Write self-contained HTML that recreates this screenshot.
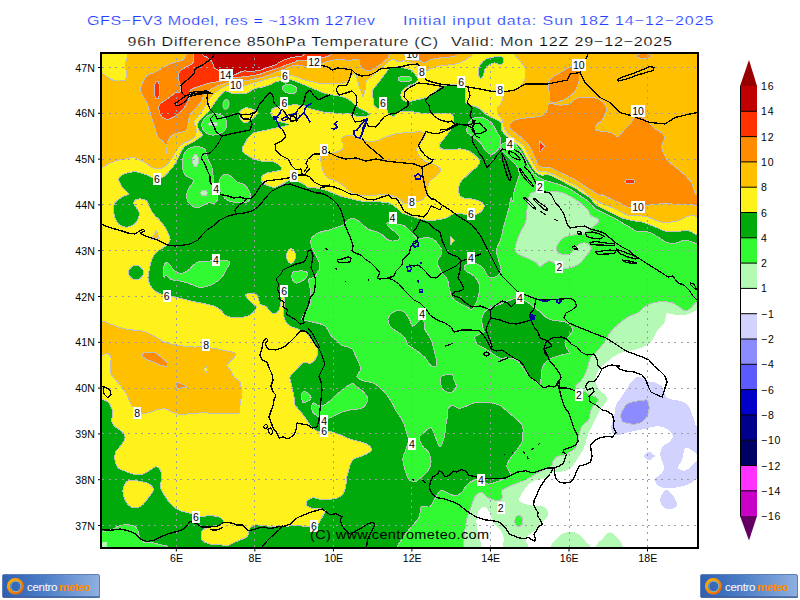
<!DOCTYPE html>
<html><head><meta charset="utf-8"><title>GFS-FV3 96h Difference 850hPa Temperature</title>
<style>
html,body{margin:0;padding:0;background:#fff;}
body{width:800px;height:600px;overflow:hidden;position:relative;font-family:"Liberation Sans",sans-serif;}
svg{position:absolute;left:0;top:0;display:block;}
text{font-family:"Liberation Sans",sans-serif;opacity:.99;}
.ax{font-size:10.6px;fill:#000;}
.cb{font-size:10.5px;fill:#000;letter-spacing:0.8px;}
.lb{font-size:10.5px;fill:#000;text-anchor:middle;}
.t1{font-size:13.4px;fill:#1e3cff;stroke:#fff;stroke-width:.18px;}
.t2{font-size:13.4px;fill:#000;stroke:#fff;stroke-width:.18px;}
.c{stroke:#c0c0c0;stroke-width:1;stroke-linejoin:round;}
.k{fill:none;stroke:#000;stroke-width:1.3;stroke-linejoin:round;stroke-linecap:round;}
.b{fill:none;stroke:#0000a0;stroke-width:1.5;stroke-linejoin:round;stroke-linecap:round;}
.g{stroke:#9c9ca4;stroke-width:1;stroke-dasharray:2 4.5;fill:none;}
</style></head><body>
<svg width="800" height="600" viewBox="0 0 800 600">
<defs><clipPath id="mp"><rect x="101" y="53" width="597" height="495"/></clipPath>
<linearGradient id="lg" x1="0" y1="0" x2="1" y2="0"><stop offset="0" stop-color="#2f5fb0"/><stop offset="0.45" stop-color="#4f7fc8"/><stop offset="1" stop-color="#8fb0e0"/></linearGradient>
<linearGradient id="ring" x1="0" y1="0" x2="1" y2="1"><stop offset="0" stop-color="#ffb400"/><stop offset="1" stop-color="#f06000"/></linearGradient>
</defs>
<g clip-path="url(#mp)" shape-rendering="crispEdges">
<rect x="95" y="45" width="610" height="510" fill="#00aa0a"/>
<path class="c" fill="#32fa32" d="M311 240.4 C311.3 238.5 312.1 237 313.8 235.6 C315.4 234.2 318.1 232.9 320.6 232 C323.1 231.1 326.3 230.8 329 230 C331.7 229.2 334.5 228.2 337 227.3 C339.5 226.4 342.2 225.8 344 224.6 C345.8 223.4 346.1 221.4 347.5 220.4 C348.9 219.4 350.5 218.4 352.2 218.4 C354 218.4 355.9 219.3 357.8 220.4 C359.6 221.5 361.4 223.8 363.2 225.2 C365.1 226.8 366.7 228.4 368.8 229.4 C370.8 230.4 373.3 230.5 375.6 231.4 C377.9 232.3 380.7 233.6 382.5 234.9 C384.3 236.2 385 238 386.6 239 C388.2 240 390.2 240.9 392.1 241 C394.1 241.1 397.2 240.5 398.3 239.7 C399.4 238.9 399.6 237.5 399 236.2 C398.4 235 396.6 233.5 395 232 C393.4 230.5 390.8 228.8 389.4 227.3 C388 225.8 386.2 224 386.6 223.2 C387 222.4 390.4 222.4 392 222.5 C393.6 222.6 394.4 223.4 396.2 223.9 C398.1 224.4 401.2 224.6 403 225.2 C404.8 225.9 405.3 226.6 406.9 228 C408.5 229.4 410.6 231.7 412.4 233.5 C414.2 235.3 415.8 238.3 417.9 239 C420 239.7 422.2 237.6 424.8 237.6 C427.3 237.6 430.7 237.8 433 239 C435.3 240.2 437 242.4 438.5 244.5 C440 246.6 441.8 249.3 442 251.4 C442.2 253.5 440.7 255.1 439.9 256.9 C439.1 258.7 437 260.3 437 262.4 C437 264.5 438.7 267.1 439.9 269.2 C441.1 271.4 442.7 273.3 444 275 C445.3 276.7 446.6 277.2 447.5 279.6 C448.4 282 448.7 286.3 449.5 289.2 C450.3 292.2 450.7 295.2 452.2 297.5 C453.8 299.8 456.7 301.5 459 303 C461.3 304.5 463.9 305.5 466 306.5 C468.1 307.5 469.9 309.6 471.5 309.2 C473.1 308.8 474.5 306.6 475.6 304.4 C476.8 302.2 477.7 299 478.4 296 C479.1 293 480 289.2 479.8 286.5 C479.5 283.8 478.4 281.7 477 279.6 C475.6 277.5 473.2 275.3 471.5 274 C469.8 272.7 468.1 272.8 467 272 C465.9 271.2 464.9 270.4 464.6 269.2 C464.3 268.1 464.2 265.9 465.3 265 C466.4 264.1 469.3 263.9 471.5 263.8 C473.7 263.6 476.3 263.5 478.4 264.4 C480.5 265.3 482.6 267.6 484 269.2 C485.4 270.9 485.6 272.6 486.5 274 C487.4 275.4 488 277 489.4 277.5 C490.8 278 493.4 277.6 495 277 C496.6 276.4 498 275.2 499 274 C500 272.8 500.8 271.2 501 270 C501.2 268.8 501 268.7 500.4 266.5 C499.8 264.3 498.3 259.6 497.6 256.9 C496.9 254.1 495.8 252.8 496.2 250 C496.7 247.2 499.3 243.8 500.4 240.4 C501.5 237 502.1 233.1 503 229.4 C503.9 225.7 505 222 506 218.4 C507 214.8 508.2 211.4 509 208 C509.8 204.6 510.3 199 511 198 C511.7 197 512.5 202.8 513 202 C513.5 201.2 513.2 196.1 513.8 193 C514.3 189.9 515.6 186.2 516.5 183.2 C517.4 180.2 519 177.5 519.2 175 C519.5 172.5 519 170.3 517.9 168 C516.8 165.7 514.5 163.5 512.4 161.2 C510.3 159 507.4 156.3 505.5 154.4 C503.6 152.5 501.9 151.4 501 150 C500.1 148.6 500.1 147.1 500.4 146 C500.7 144.9 501.7 144.2 503 143.5 C504.3 142.8 506.2 141.6 508 141.5 C509.8 141.4 512.6 142.2 514 143 C515.4 143.8 515.2 144.3 516.5 146 C517.8 147.7 520.4 150.5 522 153 C523.6 155.5 524.4 158.2 526 161.2 C527.6 164.2 529.8 168.5 531.6 171 C533.4 173.5 534.7 174.8 537 176.4 C539.3 178 542.4 179.4 545.4 180.5 C548.4 181.6 552 182.3 555 183.2 C558 184.2 560.5 184.9 563.2 186 C566 187.1 568.8 188.4 571.5 190 C574.2 191.6 577 193.8 579.8 195.6 C582.5 197.4 585.4 198.8 588 201 C590.6 203.2 592.9 206.8 595.5 208.8 C598.1 210.7 600.8 211.4 603.8 212.9 C606.7 214.4 610.4 216.1 613.4 217.7 C616.4 219.3 618.9 220.9 621.6 222.5 C624.4 224.1 627.4 225.8 629.9 227.3 C632.4 228.8 634.2 230.7 636.8 231.4 C639.3 232.1 642.5 231.1 645 231.4 C647.5 231.8 649.7 232.5 652 233.5 C654.3 234.5 656.5 236.2 658.8 237.6 C661 239 663.3 240.7 665.6 241.8 C667.9 242.8 670.4 243.7 672.5 243.8 C674.6 243.9 676.2 243 678 242.4 C679.8 241.8 681.7 240.6 683.5 240.4 C685.3 240.2 686.7 240.4 689 241 C691.3 241.6 693.4 243 697.2 243.8 C701.1 244.6 709.5 193.3 712 246 C714.5 298.7 764.5 507.7 712 560 C659.5 612.3 449.4 562.2 397 560 C344.6 557.8 395.4 551.7 397.3 546.8 C399.2 541.9 404.6 535.5 408.2 530.6 C411.8 525.7 416.8 521.5 419 517.5 C421.2 513.5 419.4 508.5 421.2 506.7 C423 504.9 427.5 508.1 429.9 506.7 C432.2 505.2 433.5 500.7 435.3 498 C437.1 495.3 438.7 491.4 440.7 490.5 C442.7 489.6 444.7 491.7 447.2 492.6 C449.7 493.5 453.4 496.1 455.9 495.9 C458.4 495.7 460.6 493.3 462.4 491.5 C464.2 489.7 464.9 486.8 466.7 485 C468.5 483.2 470.8 481.6 473.2 480.7 C475.6 479.8 478.5 478.9 481 479.5 C483.5 480.1 485.7 483.6 488.4 484 C491.1 484.4 494.4 482.6 497 481.8 C499.6 481 501.5 480.1 503.8 479 C506 477.9 509.8 476.4 510.6 474.9 C511.4 473.4 509.1 471.6 508.5 470 C507.9 468.4 506.6 467.3 506.8 465.5 C507.1 463.7 508.4 461.5 510 459 C511.6 456.5 514.6 453.2 516.6 450.3 C518.6 447.4 520.9 444.9 522 441.7 C523.1 438.4 523 433.6 523 430.8 C523 428 523.3 426.9 522 424.8 C520.7 422.6 517.5 420.3 515 418 C512.5 415.7 509.4 413.1 506.9 411 C504.4 408.9 502.7 406.9 500 405.5 C497.3 404.1 493.7 403.3 490.8 402.8 C487.8 402.2 485.2 402 482.5 402 C479.8 402 477 402.1 474.2 402.8 C471.5 403.4 468.5 405.3 466 406.2 C463.5 407.1 461.3 408.4 459 408.2 C456.7 408.1 454.1 405.4 452.2 405.5 C450.4 405.6 448.8 407.2 448 409 C447.2 410.8 447.8 414 447.5 416.5 C447.2 419 446.4 421.2 446 424 C445.6 426.8 445.5 430.1 445 433 C444.5 435.9 443.8 439.4 442.9 441.7 C442 444 440.7 447.4 439.6 447 C438.5 446.6 437.5 442.2 436.4 439.5 C435.3 436.8 433.9 432.8 433 430.8 C432.1 428.8 432 427.8 431 427.6 C430 427.4 428.3 428.6 427 429.5 C425.7 430.4 424.7 431.6 423.4 433 C422.1 434.4 419 435.7 419 438 C419 440.3 421.8 444.6 423.4 447 C425 449.4 427.5 449.9 428.8 452.5 C430.1 455.1 431.2 459.2 431 462.3 C430.8 465.4 429.3 468.5 427.7 471 C426.1 473.5 423.4 475.6 421.2 477.4 C419 479.2 416.9 481.6 414.7 481.8 C412.5 482 409.8 480.5 408.2 478.5 C406.6 476.5 405.9 473.1 405 469.9 C404.1 466.6 402.6 462.4 402.8 459 C402.9 455.6 405 452.5 406 449.3 C407 446.1 408.5 443.1 408.5 440 C408.5 436.9 406.8 433.5 406 430.8 C405.2 428.1 404.7 425.9 404 424 C403.3 422.1 403 421.4 401.8 419.2 C400.5 417.1 397.9 413.8 396.2 411 C394.6 408.2 393.7 405.5 392.1 402.8 C390.5 400 388.7 397 386.6 394.5 C384.5 392 382 389.6 379.8 387.6 C377.5 385.7 375.8 383.9 373 382.8 C370.2 381.7 365.9 381.8 363.2 380.8 C360.6 379.7 357.5 378.4 357 376.6 C356.5 374.8 360.2 372 360.5 369.8 C360.8 367.5 359.9 365.5 359 363 C358.1 360.5 356.1 356.9 355 354.6 C353.9 352.4 353.7 350.8 352.5 349.5 C351.3 348.2 349.9 347.8 348 347 C346.1 346.2 343.3 346.2 341.2 345 C339.2 343.8 337.6 341.7 335.8 340 C333.9 338.3 331.6 336.4 330.2 334.6 C328.9 332.8 328.6 330.6 327.5 329 C326.4 327.4 325.2 326 323.4 325 C321.6 324 319 323.7 316.5 323 C314 322.3 310.7 321.6 308.2 321 C305.8 320.4 302.7 320.7 302 319.5 C301.3 318.3 302.7 316.3 304 314 C305.3 311.7 308.4 308.8 309.6 305.8 C310.8 302.8 310.9 299 311 296 C311.1 293 310.3 290.8 310 288 C309.7 285.2 308.2 281.4 309 279.5 C309.8 277.6 313.5 278.3 315 276.9 C316.5 275.5 317.1 272.5 317.9 271 C318.7 269.5 319.9 269.7 320 268 C320.1 266.3 319.4 263.3 318.6 261 C317.8 258.7 316.1 256.3 315 254 C313.9 251.7 312.4 249.5 311.7 247.2 C311 245 310.7 242.3 311 240.4Z"/>
<path class="c" fill="#32fa32" d="M201.7 126 C201.5 123.8 202.6 120.9 204 119 C205.4 117.1 207.8 115.4 210 114.5 C212.2 113.6 214.7 113.3 217 113.7 C219.3 114.1 222.3 115.3 224 117 C225.7 118.7 226.8 121.8 227 124 C227.2 126.2 226.3 128.3 225 130 C223.7 131.7 221.2 133.2 219 134 C216.8 134.8 214.3 135.3 212 135 C209.7 134.7 206.7 133.5 205 132 C203.3 130.5 201.9 128.2 201.7 126Z"/>
<path class="c" fill="#32fa32" d="M185.2 151.6 C186.6 149.5 188.5 148.3 190.8 147.5 C193.1 146.7 196.7 146.6 199 146.8 C201.3 147 203.3 147.9 204.5 148.9 C205.7 149.9 205.6 151.2 206.2 153 C206.8 154.8 207.3 157.7 208.2 160 C209.2 162.3 210.9 164.2 211.7 166.8 C212.5 169.2 212.6 172.1 213 175 C213.4 177.9 213.5 181.2 214 184 C214.5 186.8 215.3 189.7 216 192 C216.7 194.3 218.3 196 218 198 C217.7 200 215.3 203.2 214 204 C212.7 204.8 211.6 202.5 210 202.6 C208.4 202.7 206.3 203.8 204.5 204.6 C202.7 205.4 200.8 207.1 199 207.4 C197.2 207.8 195.3 207.6 193.5 206.7 C191.7 205.8 189.2 203.8 188 201.9 C186.8 200 186.4 197.4 186.6 195 C186.8 192.6 188.2 189.8 189.4 187.4 C190.6 185 194.2 182.6 193.5 180.5 C192.8 178.4 187.1 177.1 185.2 175 C183.4 172.9 183 170.5 182.5 168 C182 165.5 182 162.7 182.5 160 C183 157.3 183.9 153.7 185.2 151.6Z"/>
<path class="c" fill="#32fa32" d="M219.2 180.5 C219.8 178.9 220.6 176.7 222 175.7 C223.4 174.7 225.7 174 227.5 174.3 C229.3 174.6 231.4 176.5 233 177.8 C234.6 179 235.2 180.9 237 182 C238.8 183.1 242.2 183.5 244 184.6 C245.8 185.7 247 187.1 248 188.8 C249 190.4 249.9 192.4 250.2 194.2 C250.4 196.1 250.2 198.4 249.5 199.8 C248.8 201.1 247.6 202 246 202.5 C244.4 203 242.2 203.1 240 203 C237.8 202.9 235.2 202.5 233 202 C230.8 201.5 228.7 201 227 200 C225.3 199 224.2 197.7 223 196 C221.8 194.3 220.7 191.8 220 190 C219.3 188.2 219.1 186.6 219 185 C218.9 183.4 218.8 182.1 219.2 180.5Z"/>
<path class="c" fill="#32fa32" d="M164 277 C163.5 276 162.9 271.7 163.2 269.2 C163.6 266.8 164.9 263.1 166 262.4 C167.1 261.7 168.6 263.6 170 265 C171.4 266.4 172.4 269.2 174.2 270.6 C176.1 272 178.7 273.4 181 273.4 C183.3 273.4 185.9 272 188 270.6 C190.1 269.2 191.7 266.5 193.5 265 C195.3 263.5 196.2 262.4 199 261.7 C201.8 261 206.5 261.1 210 261 C213.5 260.9 216.7 260.9 220 261 C223.3 261.1 228.6 260.2 229.6 261.7 C230.6 263.2 227.3 267.5 226 270 C224.7 272.5 223.8 274.7 222 276.9 C220.2 279.1 217.5 281.4 215 283 C212.5 284.6 209.4 285.8 206.9 286.5 C204.4 287.2 201.8 287.2 200 287.2 C198.2 287.2 198.2 287.2 196.2 286.5 C194.2 285.8 190.8 283.9 188 283 C185.2 282.1 182.5 281.6 179.8 281 C177 280.4 173.8 280.5 171.5 279.6 C169.2 278.7 167.2 275.9 166 275.5 C164.8 275.1 164.5 278 164 277Z"/>
<path class="c" fill="#32fa32" d="M352.2 383.5 C350.2 383.5 347.7 386 345.4 387.6 C343.1 389.2 340.8 391.1 338.5 393 C336.2 394.9 333.9 397.3 331.6 399.3 C329.3 401.3 327 403.8 324.8 404.8 C322.5 405.8 319.7 405.8 317.9 405.5 C316.1 405.2 314.8 402.5 313.8 402.8 C312.7 403 311.8 405.4 311.7 407 C311.6 408.6 312 410.8 313 412.4 C314 414 316.1 415.5 317.9 416.5 C319.7 417.5 321.7 418.4 324 418.5 C326.3 418.6 328.7 418.2 331.6 417.2 C334.5 416.2 337.8 413.7 341.2 412.4 C344.7 411.1 348.8 410.3 352.2 409.6 C355.7 408.9 359.6 409.4 362 408.2 C364.4 407.1 365.8 404.6 366.7 402.8 C367.6 400.9 368 399.1 367.4 397.2 C366.8 395.4 364.9 393.4 363.2 391.8 C361.6 390.1 359.6 389 357.8 387.6 C355.9 386.2 354.3 383.5 352.2 383.5Z"/>
<path class="c" fill="#32fa32" d="M467 132 C466.8 130.7 466.9 127.8 467.4 126 C467.9 124.2 468.5 122.9 469.8 121.5 C471.1 120.1 473 118 475.2 117.4 C477.5 116.8 480.8 117.1 483.5 118 C486.2 118.9 489.6 120.8 491.8 123 C493.9 125.2 494.8 128.5 496.2 131 C497.7 133.5 499.7 135.6 500.4 137.9 C501.1 140.2 501.1 142.5 500.4 144.8 C499.7 147 497.9 150 496.2 151.6 C494.6 153.2 492.6 154.6 490.8 154.4 C488.9 154.2 486.9 152.1 485.2 150.2 C483.6 148.4 482.9 145.5 481.1 143.4 C479.3 141.3 476.3 139.5 474.2 137.9 C472.2 136.3 470 134.7 468.8 133.8 C467.5 132.8 467.2 133.3 467 132Z"/>
<path class="c" fill="#32fa32" d="M95 531.6 C96.2 527.7 99.3 531.9 102 531.6 C104.7 531.3 108.5 530.6 111.2 529.7 C114 528.8 116 526.9 118.8 526 C121.5 525.1 125.2 524.5 128 524.6 C130.8 524.8 133.9 525.6 135.6 526.9 C137.3 528.2 137.6 530.5 138.4 532.5 C139.2 534.5 139.2 537.3 140.3 539 C141.4 540.7 143 542.2 145 542.8 C147 543.4 150 542.5 152.5 542.8 C155 543.1 157.5 544.1 160 544.7 C162.5 545.3 165.8 544.8 167.5 546.5 C169.2 548.2 182.1 553.6 170 555 C157.9 556.4 107.5 558.9 95 555 C82.5 551.1 93.8 535.5 95 531.6Z"/>
<path class="c" fill="#32fa32" d="M302 393 C302.6 391.3 304.7 391.6 306 392 C307.3 392.4 309.2 394.3 310 395.5 C310.8 396.7 311.5 398 311 399 C310.5 400 308.4 401 307 401.5 C305.6 402 303.3 403.4 302.5 402 C301.7 400.6 301.4 394.7 302 393Z"/>
<ellipse class="c" fill="#32fa32" cx="226" cy="104.4" rx="3" ry="5" transform="rotate(8 226 104.4)"/>
<ellipse class="c" fill="#32fa32" cx="289.7" cy="89" rx="7.5" ry="4.5" transform="rotate(12 289.7 89)"/>
<ellipse class="c" fill="#32fa32" cx="405" cy="79" rx="7" ry="2.5"/>
<path class="c" fill="#32fa32" d="M293 272 C294.2 271.3 296.8 271.1 299 271 C301.2 270.9 304.6 270.8 306 271.5 C307.4 272.2 307.7 273.8 307.5 275 C307.3 276.2 306.2 277.8 305 279 C303.8 280.2 301.5 281.3 300 282 C298.5 282.7 297.2 283.3 296 283 C294.8 282.7 293.2 281.3 292.5 280 C291.8 278.7 291.9 276.3 292 275 C292.1 273.7 291.8 272.7 293 272Z"/>
<path class="c" fill="#00aa0a" d="M484 312.6 C485.3 310.8 487.4 309.6 489.4 308.5 C491.4 307.4 494 306.7 496.2 305.8 C498.5 304.8 501 303.8 503 303 C505 302.2 506.2 301.7 508 301 C509.8 300.3 511.8 299.3 513.8 298.9 C515.8 298.5 517.7 297.9 520 298.5 C522.3 299.1 525.1 300.8 527.5 302.3 C529.9 303.9 532.1 306.1 534.4 307.8 C536.7 309.5 539 310.8 541.2 312.6 C543.5 314.4 545.2 317.4 548 318.8 C550.8 320.2 554.8 320.3 557.8 320.9 C560.8 321.5 563.7 321.3 566 322.2 C568.3 323.2 570.5 324.8 571.5 326.4 C572.5 328 572.7 330.3 572.2 331.9 C571.7 333.5 569.8 334.6 568.8 336 C567.7 337.4 566.5 338.2 566 340 C565.5 341.8 565.3 344.8 566 347 C566.7 349.2 570 352.1 570 353.2 C570 354.4 568 353.5 566 354 C564 354.5 560.8 355 557.8 356 C554.8 357 550.5 358.2 548 360 C545.5 361.8 543.7 364.2 542.6 367 C541.5 369.8 541.7 373.7 541.2 376.6 C540.8 379.5 540.9 383.4 540 384.2 C539.1 385 537.6 382.9 535.8 381.5 C533.9 380.1 531 378.2 528.9 376 C526.8 373.8 525.5 371.1 523.4 368.4 C521.3 365.7 519 361.7 516.5 360 C514 358.3 511 358.3 508.2 358 C505.5 357.7 502 358.3 500 358 C498 357.7 498.2 357.2 496.2 356 C494.2 354.8 490.4 352 488 350.5 C485.6 349 483.8 348 482 347 C480.2 346 478.2 345.9 477 344.3 C475.8 342.7 474.8 339 475 337.4 C475.2 335.8 476.9 335.5 478.4 334.6 C479.9 333.7 483.3 333.4 484 332 C484.7 330.6 482.9 328.5 482.5 326.4 C482.1 324.3 481.6 321.8 481.8 319.5 C482.1 317.2 482.7 314.4 484 312.6Z"/>
<path class="c" fill="#00aa0a" d="M441.2 376.6 C442.3 375.1 444.9 374.9 446.8 374.6 C448.6 374.3 451 373.6 452.2 374.6 C453.5 375.6 453.6 378.8 454.3 380.8 C455 382.7 456.5 384.5 456.4 386.2 C456.3 388 455 390 453.6 391 C452.2 392 449.8 392.8 448 392.5 C446.2 392.2 443.8 390.5 442.6 389 C441.4 387.5 440.8 385.6 440.6 383.5 C440.4 381.4 440.2 378.1 441.2 376.6Z"/>
<path class="c" fill="#00aa0a" d="M388 319.5 C388.2 317.7 389.4 315.4 390.8 314 C392.1 312.6 394.2 311.5 396.2 311 C398.3 310.5 401.4 310.8 403 311.2 C404.6 311.8 404.9 312.6 406 314 C407.1 315.4 408.5 317.5 409.6 319.5 C410.7 321.5 411 325.5 412.4 326 C413.8 326.5 416.5 323.6 417.9 322.2 C419.3 320.9 420 318 421 318 C422 318 423.4 320.4 424 322.2 C424.6 324.1 423.9 326.7 424.8 329 C425.6 331.3 427.6 333.7 428.9 336 C430.2 338.3 431.4 340.3 432.3 343 C433.2 345.7 433.8 349.5 434.4 352 C435 354.5 435.6 355.7 436 358 C436.4 360.3 437.3 364.3 436.5 365.6 C435.7 366.9 433 367 431 365.6 C429 364.2 427.2 359.9 424.8 357.4 C422.3 354.9 419.2 352.6 416.5 350.5 C413.8 348.4 410 346.8 408.2 345 C406.5 343.2 407.1 341.7 406 340 C404.9 338.3 403.6 336.2 401.8 334.6 C399.9 333 397.1 332.1 395 330.5 C392.9 328.9 390.6 326.8 389.4 325 C388.2 323.2 387.8 321.3 388 319.5Z"/>
<path class="c" fill="#b4fab4" d="M529.6 195 C530.3 193.3 530.4 193.6 531.6 193 C532.8 192.4 534.7 191.6 537 191.5 C539.3 191.4 542.4 192.2 545.4 192.2 C548.4 192.2 552 191.4 555 191.5 C558 191.6 560.5 192.1 563.2 193 C566 193.9 569.2 195.8 571.5 197 C573.8 198.2 575.2 199.2 577 200.5 C578.8 201.8 580.7 203 582.5 204.6 C584.3 206.2 586.6 208.2 588 210 C589.4 211.8 589.4 214.3 590.8 215.6 C592.1 216.9 594.9 216.8 596.2 217.7 C597.6 218.6 599.2 219.7 599 221 C598.8 222.3 596.7 223.6 594.9 225.2 C593.1 226.9 590.1 229.3 588 230.8 C585.9 232.2 584.8 233.5 582.5 234.2 C580.2 234.9 576.8 234.6 574.2 234.9 C571.7 235.2 569.5 235.6 567.4 236.2 C565.3 236.9 563.5 237.6 561.9 239 C560.3 240.4 558.7 242.8 557.8 244.5 C556.8 246.2 556.2 247.8 556.4 249.3 C556.6 250.8 557.4 252.5 559 253.4 C560.6 254.3 563.9 254.9 566 254.8 C568.1 254.7 569.9 254 571.5 252.8 C573.1 251.5 574.2 248.7 575.6 247.2 C577 245.8 578.1 244.5 579.8 243.8 C581.4 243.1 583.5 242.7 585.2 243 C587 243.3 589.1 244.7 590 245.9 C590.9 247.1 591.5 248.2 590.8 250 C590 251.8 586.9 254.8 585.2 256.9 C583.6 259 582.8 260.8 581 262.4 C579.2 264 577 265.5 574.2 266.5 C571.5 267.5 567.1 268.4 564.6 268.6 C562.1 268.9 560.8 268.9 559 268 C557.2 267.1 555.6 264.2 554 263 C552.4 261.8 551.2 260.9 549.5 261 C547.8 261.1 545.6 262.8 544 263.8 C542.4 264.7 541.4 266.7 540 266.5 C538.6 266.3 537.8 263.8 535.8 262.4 C533.7 261 530.5 259.6 527.5 258.2 C524.5 256.9 520 255.6 517.9 254 C515.8 252.4 515.1 250.9 515 248.6 C514.9 246.3 516.3 243.2 517.2 240.4 C518.1 237.6 519.2 235 520.6 232 C522 229 524.4 225.7 525.4 222.5 C526.4 219.3 526.4 216.1 526.8 212.9 C527.1 209.7 527 206.2 527.5 203.2 C528 200.3 528.9 196.7 529.6 195Z"/>
<path class="c" fill="#b4fab4" d="M712 296 C709.5 252.9 700.9 299.5 697.2 301.6 C693.6 303.7 692.4 307 690.4 308.5 C688.4 310 686.8 310.9 685 310.6 C683.2 310.4 681.5 308.3 679.4 307 C677.3 305.7 675.2 303.9 672.5 303 C669.8 302.1 666.2 301.6 663 301.6 C659.8 301.6 656.2 302.2 653.2 303 C650.2 303.8 647.5 304.9 645 306.5 C642.5 308.1 640.8 310.9 638 312.6 C635.2 314.3 631.7 314.9 628.5 316.8 C625.3 318.6 622 321.1 619 323.6 C616 326.1 613.1 328.8 610.6 332 C608.1 335.2 605.9 339.9 603.8 343 C601.6 346.1 599.8 348.1 597.6 350.5 C595.4 352.9 592.4 354.9 590.8 357.4 C589.1 359.9 588.9 362.9 588 365.6 C587.1 368.4 586.4 371.4 585.2 373.9 C584.1 376.4 582.6 378.7 581 380.8 C579.4 382.8 575.9 384.5 575.6 386.2 C575.3 388 577.4 390.1 579 391 C580.6 391.9 583.5 391.2 585.2 391.8 C587 392.3 587.6 393.6 589.4 394.5 C591.2 395.4 594.8 396.3 596.2 397.2 C597.7 398.2 598.5 398.9 598.3 400 C598.1 401.1 596.1 402.6 595 404 C593.9 405.4 592.3 406.6 591.5 408.2 C590.7 409.9 590.4 412.2 590 414 C589.6 415.8 590.4 417.2 589.1 419.2 C587.8 421.2 583.9 423.7 582.2 426 C580.6 428.3 580.2 430.5 579.5 433 C578.8 435.5 578.7 438.8 578 441.2 C577.3 443.8 576.8 446.2 575.4 448 C574 449.8 571.7 451.1 569.9 452.2 C568.1 453.4 566.5 454.3 564.4 455 C562.3 455.7 559.3 455.5 557.5 456.4 C555.7 457.3 554.4 458.9 553.4 460.5 C552.4 462.1 552.9 464.4 551.3 466 C549.7 467.6 546.4 468.6 543.8 470 C541.1 471.4 538.5 472.6 535.5 474.2 C532.5 475.9 528.8 478.2 525.8 479.7 C522.8 481.2 520.2 481.9 517.5 483 C514.8 484.1 511.9 485.2 509.2 486.5 C506.6 487.8 502.8 489 501.7 490.7 C500.6 492.4 502.7 495.3 502.4 496.9 C502.1 498.5 501.2 499.9 500 500.5 C498.8 501.1 496.8 500.6 494.9 500.2 C493 499.8 490.6 499.3 488.4 498 C486.2 496.7 484.1 493 481.9 492.6 C479.7 492.2 477.2 493.5 475.4 495.9 C473.6 498.2 472.4 502.7 471 506.7 C469.6 510.7 467.8 515.4 466.7 519.7 C465.6 524 465 528.3 464.5 532.7 C464 537.1 463.7 541.5 463.5 546 C463.3 550.5 422.1 557.7 463.5 560 C504.9 562.3 670.6 604 712 560 C753.4 516 714.5 339.1 712 296Z"/>
<ellipse class="c" fill="#b4fab4" cx="213" cy="124" rx="4.5" ry="2"/>
<ellipse class="c" fill="#b4fab4" cx="195.5" cy="160.5" rx="3" ry="6"/>
<ellipse class="c" fill="#b4fab4" cx="204" cy="193" rx="3.2" ry="3"/>
<path fill="#b4fab4" d="M95 542 L107 542 L107 555 L95 555Z"/>
<path fill="#ffffff" d="M712 306 C709.5 264.3 700.6 308.9 697.2 310 C693.9 311.1 693.6 311.8 691.8 312.6 C689.9 313.4 689 314.4 686.2 314.7 C683.5 315 678.5 314.9 675.2 314.7 C672 314.5 668.6 312.8 667 313.3 C665.4 313.9 666.3 316.1 665.6 318 C664.9 319.9 664.4 322.9 663 325 C661.6 327.1 659 328.2 657.4 330.5 C655.8 332.8 654.9 336.4 653.2 338.8 C651.6 341.1 650 342.7 647.8 344.3 C645.5 345.9 642.2 347.4 639.5 348.4 C636.8 349.4 634.2 349.8 631.2 350.5 C628.3 351.2 624.4 351.6 621.6 352.5 C618.9 353.4 616.8 354.8 614.8 356 C612.7 357.2 611.3 358.4 609.2 360 C607.2 361.6 604.5 363.5 602.4 365.6 C600.3 367.7 598 370 596.9 372.5 C595.8 375 595.3 378 595.5 380.8 C595.7 383.5 596.7 386.7 598.2 389 C599.8 391.3 603.5 392.7 605 394.5 C606.5 396.3 607.6 398.2 607.2 400 C606.9 401.8 604.3 403.4 602.9 405.5 C601.5 407.6 600.1 409.9 598.8 412.4 C597.4 414.9 596 417.9 594.6 420.6 C593.2 423.4 591.8 426.2 590.5 428.9 C589.2 431.6 587.9 434.2 587 437 C586.1 439.8 586 442.6 585 445.4 C584 448.2 582.5 450.8 580.9 453.6 C579.3 456.4 577.2 459.5 575.4 462 C573.6 464.5 572.2 467.2 569.9 468.8 C567.6 470.3 564.4 471 561.6 471.5 C558.8 472 556 471 553.2 472 C550.5 473 548 476.2 545 477.6 C542 479 538.1 479.2 535.4 480.4 C532.6 481.5 530.6 482.7 528.5 484.5 C526.4 486.3 524.5 489.2 523 491.4 C521.5 493.6 520.1 495.9 519.6 497.6 C519.1 499.3 519 500.6 520.2 501.7 C521.5 502.8 524.7 503.8 527 504.5 C529.3 505.2 531.5 505.6 534 505.8 C536.5 506 540.2 505.2 542.2 505.8 C544.3 506.4 545.4 507.9 546.4 509.2 C547.4 510.6 548.6 512.4 548.5 514 C548.4 515.6 546.7 517.5 545.7 518.9 C544.7 520.3 543.5 520.9 542.2 522.3 C541 523.6 539.4 525.5 538 527 C536.6 528.5 535.3 530.1 534 531.2 C532.7 532.4 531.4 532.9 530 534 C528.6 535.1 526.3 536.5 525.8 538 C525.2 539.5 526 541.6 526.5 543 C527 544.4 528.1 543.6 528.5 546.4 C528.9 549.2 498.4 557.7 529 560 C559.6 562.3 681.5 602.3 712 560 C742.5 517.7 714.5 347.7 712 306Z"/>
<path fill="#ffffff" d="M481.9 560 C478.4 557.8 482.6 551.3 481.9 546.8 C481.2 542.2 478.4 537.2 477.5 532.7 C476.6 528.2 476.3 523.3 476.5 519.7 C476.7 516.1 477.4 513.2 478.6 511 C479.9 508.8 482.2 506.5 484 506.7 C485.8 506.9 488.1 509.5 489.5 512 C490.9 514.5 491.1 519.2 492.7 521.9 C494.3 524.6 497.4 525.9 499.2 528.4 C501 530.9 503 533.9 503.6 537 C504.2 540.1 503.1 543 503 546.8 C502.9 550.6 506.5 557.8 503 560 C499.5 562.2 485.4 562.2 481.9 560Z"/>
<path fill="#b4fab4" d="M551 560 C544.4 557.7 550.6 549.6 551.2 546.4 C551.8 543.2 553.1 542.8 554.6 541 C556.1 539.2 557.9 536.9 560 535.4 C562.1 533.9 564.5 532.5 567 532 C569.5 531.5 573 531.9 575.2 532.6 C577.5 533.3 578.9 534.4 580.8 536 C582.6 537.6 584.6 540.6 586.2 542.3 C587.9 544 589.6 543.4 590.4 546.4 C591.2 549.4 597.6 557.7 591 560 C584.4 562.3 557.6 562.3 551 560Z"/>
<path fill="#b4fab4" d="M596 560 C591.5 557.7 595.2 549.5 596.2 546 C597.3 542.5 600.4 541 602.5 538.8 C604.6 536.5 606.7 533.1 608.8 532.5 C610.8 531.9 613.1 533.5 615 535 C616.9 536.5 618.8 539.4 620 541.2 C621.2 543.1 622 542.9 622.5 546 C623 549.1 627.4 557.7 623 560 C618.6 562.3 600.5 562.3 596 560Z"/>
<ellipse class="c" fill="#32fa32" cx="518.9" cy="521" rx="4.1" ry="5.5"/>
<path fill="#d2d2ff" d="M637.5 376.6 C635.4 377.2 633.2 379.7 631.2 382 C629.3 384.3 627.6 387.6 625.8 390.4 C623.9 393.2 621.8 396.3 620.2 398.6 C618.7 400.9 617.3 402.4 616.5 404 C615.7 405.6 615.7 405.9 615.2 408.2 C614.8 410.6 614.6 415.2 614 418 C613.4 420.8 611.8 422.5 611.5 425 C611.2 427.5 611.2 431.3 612.5 433 C613.8 434.7 617.1 435 619.4 435 C621.7 435 623.8 433.5 626.2 432.8 C628.7 432.1 630.9 431.6 634 431 C637.1 430.4 641.3 429.8 645 429 C648.7 428.2 652.8 426.4 656 426.2 C659.2 426 661.7 426.6 664.2 427.6 C666.8 428.6 669.8 430.7 671.2 432.4 C672.6 434.1 673 436.2 672.5 437.9 C672 439.6 670 441.3 668.4 442.7 C666.8 444.1 664.4 444.4 663 446.1 C661.6 447.8 660.5 450.7 660.2 453 C660 455.3 660.8 457.6 661.5 459.9 C662.2 462.2 664.2 464.5 664.2 466.8 C664.2 469 663.1 471.5 661.5 473.6 C659.9 475.7 655.3 477.3 654.6 479.1 C653.9 480.9 656 483.1 657.4 484.6 C658.8 486.1 660.5 487.4 663 488 C665.5 488.6 669.1 488.3 672.5 488 C675.9 487.7 680.5 486.8 683.5 486 C686.5 485.2 688.2 484.4 690.4 483.2 C692.6 482.1 693 481.3 696.6 479.1 C700.2 476.9 709.4 478.5 712 470 C714.6 461.5 714.5 435.2 712 428 C709.5 420.8 700.2 428.2 697.2 427 C694.3 425.8 695.4 422.8 694.5 420.6 C693.6 418.4 692.7 416 691.8 413.8 C690.8 411.5 690.4 409 689 407 C687.6 405 685.8 403.2 683.5 402 C681.2 400.8 678 400.7 675.2 400 C672.5 399.3 668.8 399.4 667 398 C665.2 396.6 665.2 393.7 664.2 391.8 C663.3 389.8 662.9 387.7 661.5 386.2 C660.1 384.8 658.1 383.6 656 382.8 C653.9 382 651.1 382.2 649 381.5 C646.9 380.8 645.5 379.5 643.6 378.7 C641.7 377.9 639.6 376.1 637.5 376.6Z"/>
<path fill="#d2d2ff" d="M666.2 490 C667.9 490.2 670.7 492.7 672.5 495 C674.3 497.3 677 501.5 677 503.8 C677 506 674.7 508.1 672.5 508.8 C670.3 509.4 665.8 509 663.8 507.5 C661.7 506 660.2 502.3 660 500 C659.8 497.7 661.5 495.4 662.5 493.8 C663.5 492.1 664.6 489.8 666.2 490Z"/>
<path fill="#d2d2ff" d="M643 456 L649.1 451.2 L655.2 456 L649.1 460.8Z"/>
<path fill="#ffffff" d="M686.2 447.5 C688.4 447.6 694.3 452 696.6 453.7 C698.9 455.4 700.1 456.2 700 457.5 C699.9 458.8 698.3 459.1 696 461.2 C693.7 463.4 689.2 469.1 686.2 470.2 C683.2 471.3 678.7 469.8 678 468.1 C677.3 466.4 681.3 462.4 682.2 459.9 C683.1 457.4 682.8 455.1 683.5 453 C684.2 450.9 684.1 447.4 686.2 447.5Z"/>
<path class="c" fill="#8c8cff" d="M621 413.8 C621.3 412.4 622 411.2 623 409.6 C624 408 625.2 405.4 627 404 C628.8 402.6 631.5 401.9 634 401.4 C636.5 400.8 640.1 400.9 642.2 400.7 C644.4 400.5 645.9 399.2 647 400 C648.1 400.8 648.8 403.4 649 405.5 C649.2 407.6 649.2 410.1 648.5 412.4 C647.8 414.7 646.5 417.4 645 419.2 C643.5 421.1 641.8 422.6 639.5 423.4 C637.2 424.2 634 424.2 631.2 424 C628.5 423.8 624.7 423 623 422 C621.3 421 621.3 419.4 621 418 C620.7 416.6 620.7 415.1 621 413.8Z"/>
<path class="c" fill="#fff21c" d="M90 40 C123 -19.7 255 33.3 288 40 C321 46.7 289.2 73.2 288 80 C286.8 86.8 282.9 80.4 280.8 80.7 C278.6 81 277.1 81.3 275.2 82 C273.4 82.7 271.8 84 269.8 84.8 C267.8 85.6 265.3 86.3 263 86.9 C260.7 87.5 258.1 87.6 256 88.2 C253.9 88.9 252.3 90.1 250.5 91 C248.7 91.9 247.1 93.3 245 93.8 C242.9 94.2 240.3 93.9 238 93.8 C235.7 93.6 233.4 93.5 231.2 93 C229.1 92.5 227 90.3 225 91 C223 91.7 221 94.7 219 97 C217 99.3 214.8 102.5 213 105 C211.2 107.5 210.2 109.5 208 112 C205.8 114.5 201.8 117.8 200 120 C198.2 122.2 197.2 123.3 197 125 C196.8 126.7 198.1 128.3 199 130 C199.9 131.7 202.5 133.7 202.5 135 C202.5 136.3 200.8 136.7 199 138 C197.2 139.3 194.3 141.4 192 142.7 C189.7 144 187.1 144.5 185.2 146 C183.4 147.5 182.4 149.3 181 151.6 C179.6 153.9 178.3 157.5 177 160 C175.7 162.5 174.6 164.6 173 166.8 C171.4 168.9 169.2 171.2 167.4 173 C165.6 174.8 164.1 176.8 162 177.8 C159.9 178.7 157.5 179 155 178.5 C152.5 178 149.5 176 146.8 175 C144 174 141.2 172.7 138.5 172.2 C135.8 171.8 133 171.8 130.2 172.2 C127.5 172.7 123.9 173.9 122 175 C120.1 176.1 118.8 177.4 118.6 179 C118.4 180.6 119.6 182.8 120.6 184.6 C121.6 186.4 123.3 188.4 124.8 190 C126.2 191.6 129 193.3 129 194.2 C129 195.2 126.4 194.7 124.8 195.5 C123.1 196.3 121 197.7 119.2 199 C117.5 200.3 115.3 201.4 114.4 203.2 C113.5 205.1 113.7 207.5 113.8 210 C113.8 212.5 114.1 216 115 218.4 C115.9 220.8 117.4 223.1 119.2 224.6 C121.1 226.1 123.7 227.2 126 227.3 C128.3 227.4 131 226.5 133 225.2 C135 224 136.8 221.8 137.8 219.8 C138.8 217.7 139.4 215 139.2 212.9 C139 210.8 137.3 209 136.4 207.4 C135.5 205.8 133.8 204.5 133.7 203.2 C133.6 202 134.5 200.5 135.8 199.8 C137 199.1 139.4 198.8 141.2 199 C143.1 199.2 145.4 199.8 146.8 201.2 C148.1 202.6 148.4 205.2 149.5 207.4 C150.6 209.6 152 212.2 153.6 214.2 C155.2 216.3 157.3 217.7 159.1 219.8 C160.9 221.8 163 224.1 164.6 226.6 C166.2 229.1 167.8 232.6 168.8 234.9 C169.7 237.2 170.5 238.6 170 240.4 C169.5 242.2 167.8 244.3 166 245.9 C164.2 247.5 161.2 248.4 159.1 250 C157 251.6 155 253.4 153.6 255.5 C152.2 257.6 151.6 260.1 150.9 262.4 C150.2 264.7 150 266.6 149.5 269.2 C149 271.9 147.8 275.4 148 278.2 C148.2 281.1 149.5 284.2 150.9 286.5 C152.3 288.8 154.2 290.6 156.4 292 C158.6 293.4 161.2 294.2 164 295 C166.8 295.8 169.8 296.2 172.9 296.8 C176 297.4 179.1 298.1 182.5 298.9 C185.9 299.7 189.8 300.8 193.5 301.6 C197.2 302.4 202 303.2 204.5 303.7 C207 304.2 206.5 303.9 208.2 304.4 C210 304.9 212.9 305.6 215 306.5 C217.1 307.4 219 308.6 220.6 310 C222.2 311.4 222.9 313.4 224.8 314.7 C226.6 315.9 228.8 317 231.6 317.5 C234.3 318 238.5 317.8 241.2 317.5 C244 317.2 245.9 316.9 248 316 C250.1 315.1 252.2 313.5 253.6 312 C255 310.5 256.6 308.5 256.4 307 C256.2 305.5 253.7 304.4 252.2 303 C250.8 301.6 249.1 300.1 248 298.9 C246.9 297.6 245.2 296.4 245.4 295.5 C245.7 294.6 247.7 293.5 249.5 293.4 C251.3 293.3 254.9 293.7 256.4 294.8 C257.9 295.8 257.8 298 258.5 299.6 C259.2 301.2 259.2 303.2 260.5 304.4 C261.8 305.5 264.4 305.4 266 306.5 C267.6 307.6 268.6 310 270 311.2 C271.4 312.5 272.9 314 274.2 314 C275.6 314 277.4 312.6 278.4 311.2 C279.4 309.9 280 308 280.5 305.8 C281 303.5 281.1 300 281.5 298 C281.9 296 282.5 294.1 283 294 C283.5 293.9 284.4 295.1 284.6 297.5 C284.8 299.9 284.1 305.3 284 308.5 C283.9 311.7 283.7 314.5 284 316.8 C284.3 319 284.9 320.6 286 322.2 C287.1 323.9 288.8 325.3 290.8 326.4 C292.7 327.5 295.6 328.2 297.6 329 C299.6 329.8 301.7 330.7 303 331.2 C304.3 331.7 304.4 331 305.5 332 C306.6 333 308.2 335.6 309.6 337.4 C311 339.2 312.5 341.2 313.8 343 C315 344.8 316.5 346.9 317.2 348.4 C317.9 349.9 318 350.5 317.9 352 C317.8 353.5 317.6 355.6 316.5 357.4 C315.4 359.2 313.2 362.1 311 363 C308.8 363.9 305.5 361.9 303 363 C300.5 364.1 298.4 367.5 296.2 369.8 C294.1 372 290.8 374.1 290 376.6 C289.2 379.1 290.9 381.9 291.5 384.9 C292.1 387.9 292.9 391.5 293.5 394.5 C294.1 397.5 294.7 401 294.9 402.8 C295.1 404.5 294 403.7 294.8 405 C295.6 406.3 297.9 408.4 299.6 410.5 C301.3 412.6 303.2 414.9 305 417.4 C306.8 419.9 308.8 423.4 310.6 425.6 C312.4 427.8 313.8 429.4 316 430.5 C318.2 431.6 321.5 432.3 324 432.5 C326.5 432.7 328.7 431.4 331.2 431.8 C333.8 432.2 336.5 433.5 339.5 434.6 C342.5 435.8 345.8 437.6 349 438.7 C352.2 439.8 355.8 440.6 358.8 441.5 C361.8 442.4 364.8 442.8 367 444.2 C369.2 445.6 371.8 448.1 371.8 449.7 C371.8 451.3 369 452.6 367 453.8 C365 455 362.3 455.7 360 456.6 C357.7 457.5 354.8 458.1 353.2 459.3 C351.7 460.5 351.3 462.1 350.5 464 C349.7 465.9 349.2 468.7 348.5 471 C347.8 473.3 346.8 475.8 346.4 478 C346 480.2 346.2 482.1 346 484 C345.8 485.9 345.8 487.4 345 489.4 C344.2 491.4 343.1 494.4 341.2 496 C339.4 497.6 336.9 498.1 333.8 498.8 C330.6 499.4 326 499.9 322.5 499.7 C319 499.5 315.5 497.6 313 497.8 C310.5 498 308.6 499.4 307.5 500.6 C306.4 501.9 305.9 504.1 306.5 505.3 C307.1 506.5 308.9 507.4 311.2 508 C313.6 508.6 318.3 508.5 320.6 509 C322.9 509.5 325 509.8 325.3 511 C325.6 512.2 323.6 514.5 322.5 516.5 C321.4 518.5 320.2 521.3 318.8 523 C317.3 524.7 316.8 526 314 526.5 C311.2 527 306.1 526.1 301.9 526 C297.7 525.9 292.8 526 288.8 526 C284.7 526 281.2 526 277.5 526 C273.8 526 270 526.2 266.2 526 C262.5 525.8 257.8 524.5 255 525 C252.2 525.5 250.7 526.9 249.4 528.8 C248.2 530.6 249.1 534.4 247.5 536.2 C245.9 538.1 242.1 539 240 540 C237.9 541 237.1 541.1 235 542 C232.9 542.9 230 545.1 227.5 545.6 C225 546.1 223.1 545 220 544.7 C216.9 544.4 211.7 544.5 208.8 543.8 C205.8 543 203.4 541.6 202.2 540 C200.9 538.4 201.1 536.1 201.2 534.4 C201.4 532.7 201.4 530.9 203 529.7 C204.6 528.5 207.8 527.8 210.6 527 C213.4 526.2 217.8 525.8 220 525 C222.2 524.2 223.8 523.2 223.8 522 C223.8 520.8 222.2 518.6 220 517.5 C217.8 516.4 213.7 515.8 210.6 515.6 C207.5 515.4 203.7 516.7 201.2 516.5 C198.8 516.3 198.2 515.1 196 514.5 C193.8 513.9 190.9 513.5 188 512.8 C185.1 512 181.5 511.4 178.8 510 C176 508.6 173.4 506.6 171.2 504.4 C169.1 502.2 167.3 499.4 165.6 496.9 C163.9 494.4 161.8 491.4 161 489.4 C160.2 487.3 160.3 486.8 160.5 484.6 C160.7 482.4 161.9 478.8 161.9 476.4 C161.9 474 161.4 471.8 160.5 470.2 C159.6 468.6 158 466.9 156.4 466.8 C154.8 466.6 152.7 468.5 150.9 469.5 C149.1 470.5 147.5 472.1 145.4 473 C143.3 473.9 140.8 474.9 138.5 475 C136.2 475.1 133.9 474.3 131.6 473.6 C129.3 472.9 127 472 124.8 471 C122.5 470 119.5 469.3 117.9 467.5 C116.3 465.7 115.3 462.6 115 460 C114.7 457.4 114.9 453.9 115.8 451.6 C116.7 449.3 119.1 448.1 120.6 446 C122.1 443.9 124.2 441.3 124.8 439.2 C125.3 437.2 124.9 435.4 124 433.8 C123.1 432.1 121 431 119.2 429.6 C117.5 428.2 115 427.1 113.8 425.5 C112.5 423.9 111.6 421.8 111.5 420 C111.4 418.2 113 417 113 415 C113 413 112.5 410.4 111.7 408.2 C110.9 406.1 109.9 403.5 108.2 402 C106.6 400.5 105 400 102 399.3 C99 398.6 92 457.9 90 398 C88 338.1 57 99.7 90 40Z"/>
<path class="c" fill="#fff21c" d="M271 112.3 C271.2 111.5 271.3 109.9 272.5 109 C273.7 108.1 276.1 107.4 278 106.8 C279.9 106.2 282.2 105.7 284 105.5 C285.8 105.3 287.2 105.5 289 105.4 C290.8 105.3 293 104.8 294.5 104.8 C296 104.7 296.5 104.8 298 105 C299.5 105.2 301.9 105.1 303.8 105.7 C305.6 106.3 306.7 107.6 309 108.4 C311.3 109.2 314.7 109.8 317.5 110.5 C320.3 111.2 323 112.2 325.8 112.6 C328.5 113 331.3 112.8 334 113 C336.7 113.2 339.2 113.8 342 114 C344.8 114.2 347.7 113.5 350.5 114 C353.3 114.5 356.1 116.4 358.8 116.7 C361.6 117 365.2 116.3 367 116 C368.8 115.7 370 115.4 369.8 114.6 C369.6 113.8 367.4 112.3 365.6 111.2 C363.8 110.1 360.9 109.1 358.8 107.8 C356.7 106.4 354.8 104.5 353 103 C351.2 101.5 350.1 100 347.8 98.8 C345.6 97.6 342.3 96.7 339.5 96 C336.7 95.3 333.8 95.3 331 94.7 C328.2 94.1 325.7 93.5 323 92.6 C320.3 91.7 317.5 90.3 314.8 89.2 C312 88.1 309.3 86.9 306.5 85.8 C303.7 84.6 300.8 83.3 298 82.3 C295.2 81.3 292.5 79.9 290 79.6 C287.5 79.3 284.2 86.9 283 80.3 C281.8 73.7 211.5 46.7 283 40 C354.5 33.3 640.5 7.5 712 40 C783.5 72.5 714.5 202.4 712 234.9 C709.5 267.4 700.6 235.4 697.2 234.9 C693.9 234.4 693.6 232.8 691.8 232 C689.9 231.2 688.3 230.1 686.2 230 C684.2 229.9 681.7 231.1 679.4 231.4 C677.1 231.7 675 232.1 672.5 232 C670 231.9 667 231.5 664.2 230.8 C661.5 230 658.8 228.4 656 227.3 C653.2 226.2 650.3 224.8 647.8 223.9 C645.2 223 643.6 222.4 640.9 221.8 C638.1 221.2 634.5 221.1 631.2 220.4 C628 219.7 624.6 218.8 621.6 217.7 C618.6 216.6 616.4 215.1 613.4 213.6 C610.4 212.1 606.7 210.2 603.8 208.8 C600.8 207.2 597.7 206.3 595.5 204.6 C593.3 202.9 592.9 200.3 590.8 198.4 C588.6 196.5 585.2 194.8 582.5 193 C579.8 191.2 577 189 574.2 187.4 C571.5 185.8 568.8 184.7 566 183.2 C563.2 181.8 560.5 180.4 557.8 179 C555 177.6 552.2 175.7 549.5 175 C546.8 174.3 543.5 175.5 541.2 175 C539 174.5 537.6 174.1 535.8 172.2 C533.9 170.4 532 166.8 530.2 164 C528.5 161.2 527 158.5 525.4 155.8 C523.8 153 522.5 149.8 520.6 147.5 C518.7 145.2 516.3 144.1 513.8 142 C511.2 139.9 507.6 137.1 505.5 135 C503.4 132.9 502.1 131.4 501.4 129.6 C500.7 127.8 501.6 125.3 501.4 124 C501.2 122.7 501.6 122.6 500 121.5 C498.4 120.4 494 118.6 491.8 117.4 C489.5 116.2 487.9 115.8 486.2 114.6 C484.6 113.4 483.6 111.8 482 110.5 C480.4 109.2 478.6 107.9 476.6 107 C474.6 106.1 471.6 105.8 469.8 105 C468 104.2 466.3 103.8 465.6 102.2 C464.9 100.7 465.7 97.8 465.6 95.4 C465.5 93 465.8 89.5 465 87.8 C464.2 86.1 462.3 86 461 85.5 C459.7 85 458.8 84.7 457 84.5 C455.2 84.3 452.5 84.2 450.5 84.4 C448.5 84.6 446.8 85.2 445 85.8 C443.2 86.3 441.1 86.9 439.5 87.8 C437.9 88.7 437 90 435.4 91.2 C433.8 92.5 431.8 94.3 430 95.4 C428.2 96.5 426.7 97.2 424.4 98 C422.1 98.8 418.7 99.4 416 100 C413.3 100.6 410.3 101.7 408 101.6 C405.7 101.5 403.6 100.8 402.4 99.5 C401.2 98.2 400.8 95.7 401 94 C401.2 92.3 402.4 90.6 403.8 89.2 C405.1 87.8 407.2 86.8 409 85.8 C410.8 84.7 413.2 84 414.8 83 C416.2 82 417.9 81 418 79.6 C418.1 78.2 416.4 76.2 415.4 74.8 C414.4 73.2 413.5 71.6 412 70.6 C410.5 69.6 408.8 69.2 406.5 68.6 C404.2 68 400.8 67.1 398 67 C395.2 66.9 391.9 67.2 390 68 C388.1 68.8 387.6 70.7 386.5 72 C385.4 73.3 385.4 73.5 383.5 76 C381.6 78.5 376.8 84.5 375 87 C373.2 89.5 372.8 89.2 372.5 91 C372.2 92.8 372.8 95.7 373 98 C373.2 100.3 373.2 103.2 374 105 C374.8 106.8 376 107.8 378 108.5 C380 109.2 384.2 108 386 109 C387.8 110 387.6 113.4 389 114.6 C390.4 115.8 393.2 116.3 394.5 116 C395.8 115.7 395.5 113.4 397 112.6 C398.5 111.8 401.6 111.4 403.8 111.2 C405.9 111 407.7 111.3 410 111.5 C412.3 111.7 414.7 112.2 417.5 112.6 C420.3 113 424 113.9 427 114 C430 114.1 432.4 113.4 435.4 113.2 C438.4 113.1 442.2 113 445 113.2 C447.8 113.5 450.5 113.2 452 114.6 C453.5 116 454 119.5 454 121.5 C454 123.5 453.5 124.7 452.2 126.9 C451 129.2 448.6 132.5 446.8 135 C444.9 137.5 442.5 140.2 441.2 142 C440 143.8 438.7 144.7 439.2 146 C439.7 147.3 441.8 149 444 149.6 C446.2 150.2 449.5 149.7 452.2 149.6 C455 149.5 457.8 148.7 460.5 148.9 C463.2 149.1 466.2 149.9 468.8 151 C471.3 152.1 473.8 154 475.6 155.8 C477.4 157.5 479.5 159.4 479.8 161.2 C480 163.1 478.4 165.1 477 166.8 C475.6 168.4 473.3 169.4 471.5 171 C469.7 172.6 467.8 174.6 466 176.4 C464.2 178.2 461.8 179.9 460.5 182 C459.2 184.1 458.6 186.5 458.5 188.8 C458.4 191 458.8 194 459.8 195.6 C460.8 197.2 462.7 197.8 464.6 198.4 C466.6 199 469 198.5 471.5 199 C474 199.5 477.7 200.1 479.8 201.2 C481.8 202.2 483.5 203.8 484 205.3 C484.5 206.8 483.7 208.5 482.5 210 C481.3 211.5 479.1 213.4 477 214.2 C474.9 215.1 473 215.1 470 215 C467 214.9 462 213.7 459 213.6 C456 213.5 454.3 213.6 452.2 214.2 C450.2 214.9 449 216.8 446.8 217.7 C444.5 218.6 441.7 219.3 438.5 219.8 C435.3 220.2 430.9 220.6 427.5 220.4 C424.1 220.2 421.1 219.3 417.9 218.4 C414.7 217.5 410.9 215.9 408.2 215 C405.6 214.1 403.8 214.2 401.8 212.9 C399.8 211.6 398.3 209 396.2 207.4 C394.2 205.8 392.1 204.2 389.4 203.2 C386.6 202.3 383.2 202.1 379.8 201.9 C376.3 201.7 372.4 202.1 368.8 201.9 C365.1 201.7 361.4 201.2 357.8 200.5 C354.1 199.8 349.5 198.4 346.8 197.8 C344 197.1 343.5 197.1 341.2 196.3 C339 195.5 335.8 194.1 333 193 C330.2 191.9 327.5 190.8 324.8 190 C322 189.2 319.2 188.4 316.5 188 C313.8 187.6 310.2 188 308.2 187.4 C306.2 186.8 306 185.5 304.5 184.6 C303 183.7 300.8 182.6 299 182 C297.2 181.4 295.6 181.2 294 181 C292.4 180.8 290.9 180.2 289.4 180.5 C287.9 180.8 286.9 181.8 285.2 182.6 C283.6 183.4 281.6 184.5 279.8 185.3 C277.9 186.1 276.1 187.3 274.2 187.4 C272.4 187.5 270.6 186.7 268.8 186 C266.9 185.3 264.5 184.4 263.2 183.2 C262 182.1 261.2 180.4 261.2 179 C261.2 177.6 262.2 176 263.2 175 C264.3 174 265.6 173.6 267.4 173 C269.2 172.4 272 172.1 274.2 171.6 C276.5 171.1 279.7 170.8 281 170.2 C282.3 169.6 281.8 168.6 281.8 168 C281.8 167.4 281.8 167.5 281 166.8 C280.2 166 278.8 164.2 277 163.3 C275.2 162.4 272.5 161.6 270 161.2 C267.5 160.9 264.5 161.6 262 161.2 C259.5 160.9 257.3 160.1 255 159.2 C252.7 158.3 249.9 156.9 248 155.8 C246.1 154.6 244.2 153.7 243.3 152.3 C242.4 150.9 242.2 149.1 242.6 147.5 C242.9 145.9 244.5 144.3 245.4 142.7 C246.3 141.1 246.6 139.6 248 138 C249.4 136.4 251.3 134.2 253.6 133 C255.9 131.8 259 131.7 262 131 C265 130.3 268.3 129.7 271.5 129 C274.7 128.3 278.1 127.8 281 127 C283.9 126.2 289 125.3 289 124.5 C289 123.7 283.3 122.8 281 122 C278.7 121.2 276.9 121.4 275.2 120 C273.6 118.6 271.7 115 271 113.7 C270.3 112.4 270.8 113.1 271 112.3Z"/>
<path class="c" fill="#fff21c" d="M123.4 487.5 C124.2 485.2 125.7 482.1 128 481 C130.3 479.9 134 480.5 137.5 481 C141 481.5 146.1 482.2 148.8 483.8 C151.4 485.3 153.4 488.1 153.4 490.3 C153.4 492.5 150.5 494.5 148.8 496.9 C147 499.2 145.2 502.5 143 504.4 C140.8 506.2 138.1 508 135.6 508 C133.1 508 130 506.6 128 504.4 C126 502.2 124.2 497.8 123.4 495 C122.6 492.2 122.6 489.8 123.4 487.5Z"/>
<path class="c" fill="#fff21c" d="M240 111.6 C240.9 110.4 243 108.4 245 108 C247 107.6 249.9 108.3 252 109 C254.1 109.7 257 110.7 257.4 112 C257.8 113.3 256 115.5 254.6 117 C253.2 118.5 250.6 120 249 121 C247.4 122 246.3 123.2 245 123 C243.7 122.8 241.9 121.3 241 120 C240.1 118.7 239.7 116.4 239.5 115 C239.3 113.6 239.1 112.8 240 111.6Z"/>
<path class="c" fill="#fff21c" d="M450 236.5 L454.3 240 L451 244.5Z"/>
<ellipse class="c" fill="#fff21c" cx="291" cy="256" rx="4.5" ry="7.2"/>
<path class="c" fill="#00aa0a" d="M479.4 77.5 C478.8 76.3 477.8 72.9 478 70.6 C478.2 68.3 479.4 65.7 480.8 63.8 C482.2 61.8 484 60.1 486.2 59 C488.5 57.9 492.2 57.3 494.5 56.9 C496.8 56.5 498.5 56.3 500 56.5 C501.5 56.7 503.2 56.9 503.8 58 C504.2 59.1 503.6 61.9 503 63 C502.4 64.1 501.4 64.5 500 64.5 C498.6 64.5 496.3 62.9 494.5 63 C492.7 63.1 490.6 64 489 65 C487.4 66 485.9 67.6 485 69.2 C484.1 70.9 484.1 73.3 483.5 74.8 C482.9 76.2 482.2 77.5 481.5 78 C480.8 78.5 480 78.7 479.4 77.5Z"/>
<ellipse class="c" fill="#00aa0a" cx="136" cy="272.5" rx="7.5" ry="7"/>
<path class="c" fill="#ffc000" d="M90 40 C154.2 18.3 411.2 37.6 475 40 C538.8 42.4 473.4 51.6 472.5 54.4 C471.6 57.2 471.2 55.9 469.8 56.9 C468.4 57.9 466.4 59.2 464.3 60.3 C462.2 61.4 460.1 63 457.4 63.8 C454.6 64.5 450.8 64.7 447.8 65 C444.8 65.3 442.3 65.2 439.5 65.8 C436.7 66.4 433.1 67.8 431 68.6 C428.9 69.4 428.5 70.4 427 70.6 C425.5 70.8 423.8 70.9 422 70 C420.2 69.1 418.8 66.5 416 65 C413.2 63.5 408 61.5 405 61 C402 60.5 399.8 61.9 398 61.7 C396.2 61.5 396 59.7 394.5 59.6 C393 59.5 390.6 60.1 389 61 C387.4 61.9 386.6 63.6 385 65 C383.4 66.4 381.1 67.8 379.4 69.2 C377.7 70.8 376.4 72.7 375 74 C373.6 75.3 372.5 75.5 371 76.8 C369.5 78.1 367 79.4 366 81.6 C365 83.8 365.5 87.5 365 90 C364.5 92.5 363.6 96.4 363 96.8 C362.4 97.2 362.2 94.4 361.5 92.6 C360.8 90.8 359.6 88.3 358.8 85.8 C358.1 83.2 357.7 79.5 357 77.5 C356.3 75.5 355.7 74.2 354.6 74 C353.5 73.8 351.6 74.8 350.5 76 C349.4 77.2 349.2 79.7 347.8 81 C346.4 82.3 344.8 83.2 342 83.7 C339.2 84.2 334.4 83.7 331 83.7 C327.6 83.7 324.8 84.1 321.6 83.7 C318.4 83.3 315 82.3 312 81.6 C309 80.9 306.2 80.4 303.8 79.6 C301.2 78.8 299.3 77.5 297 76.8 C294.7 76.1 292 75.5 290 75.4 C288 75.3 287.5 75.7 285 76 C282.5 76.3 277.9 76.5 275 77 C272.1 77.5 270.2 78.2 267.5 79 C264.8 79.8 261.7 80.7 258.8 81.5 C255.8 82.3 252.5 83.2 250 84 C247.5 84.8 246.2 85.4 244 86 C241.8 86.6 239.3 87.7 237 87.5 C234.7 87.3 232 85.2 230 85 C228 84.8 226.7 85.8 225 86.5 C223.3 87.2 222 87.6 220 89 C218 90.4 215 93 213 95 C211 97 209.5 98.8 208 101 C206.5 103.2 205.8 105.2 204 108 C202.2 110.8 198.7 115.8 197 118 C195.3 120.2 194.3 119.8 194 121 C193.7 122.2 194.6 123.8 195 125.5 C195.4 127.2 196.2 129.2 196.2 131 C196.2 132.8 196.1 134.9 195 136.5 C193.9 138.1 191.5 139.3 189.4 140.6 C187.3 141.8 184.3 142.8 182.5 144 C180.7 145.2 179.8 145.8 178.4 147.5 C177 149.2 175.7 152.1 174.2 154.4 C172.8 156.7 171.6 159.2 170 161.2 C168.4 163.3 166.6 165.5 164.6 166.8 C162.6 168 159.8 168.7 157.8 168.8 C155.7 168.9 154.3 168.5 152.2 167.5 C150.2 166.5 147.7 164 145.4 162.6 C143.1 161.2 140.6 160.1 138.5 159.2 C136.4 158.3 135.3 157 133 157 C130.7 157 127.5 158.6 124.8 159.2 C122 159.8 119.2 159.8 116.5 160.6 C113.8 161.4 110.7 162.8 108.2 164 C105.8 165.2 105 166.5 102 167.5 C99 168.5 92 191.2 90 170 C88 148.8 25.8 61.7 90 40Z"/>
<path class="c" fill="#ffc000" d="M320.6 155.8 C321.8 155.2 325 154.3 327.5 153.7 C330 153.1 333.2 153.1 335.8 152.3 C338.3 151.5 341.2 150.2 342.6 148.9 C344 147.6 344.2 146.1 344 144.8 C343.8 143.4 341.2 142 341.2 140.6 C341.2 139.2 342.2 137.3 344 136.5 C345.8 135.7 349.5 135.3 352.2 135.8 C355 136.3 357.8 138.3 360.5 139.2 C363.2 140.2 366 141.1 368.8 141.3 C371.5 141.5 374.2 141.3 377 140.6 C379.8 139.9 382.5 138.2 385.2 137.2 C388 136.2 390.8 135.1 393.5 134.4 C396.2 133.7 398.8 133.3 401.8 133 C404.7 132.7 407.9 132.6 411 132.4 C414.1 132.2 418.2 131.4 420.6 131.7 C423 132 424.9 133.1 425.4 134.4 C425.9 135.7 424.5 137.4 423.4 139.2 C422.3 141.1 419.8 143.7 418.6 145.4 C417.5 147.1 416.4 147.9 416.5 149.6 C416.6 151.3 417.9 153.8 419.2 155.8 C420.6 157.7 422.7 160 424.8 161.2 C426.8 162.5 429.3 162.4 431.6 163.3 C433.9 164.2 437 165.5 438.5 166.8 C440 168 441.1 169.4 440.6 171 C440.1 172.6 437.5 174.8 435.8 176.4 C434 178 431.6 178.7 430.2 180.5 C428.9 182.3 428.1 185.1 427.5 187.4 C426.9 189.7 427.5 192.3 426.8 194.2 C426.1 196.2 424.4 198 423.4 199 C422.4 200 422.2 199.9 420.6 200.5 C419 201.1 416 202 413.8 202.5 C411.5 203 408.8 203.5 407 203.5 C405.2 203.5 404.3 203.3 403 202.5 C401.7 201.7 400.6 199.4 399 198.4 C397.4 197.4 395.8 197 393.5 196.3 C391.2 195.6 388 194.5 385.2 194.2 C382.5 194 380 194.8 377 195 C374 195.2 370.4 195.6 367.4 195.6 C364.4 195.6 361.5 195.4 359 195 C356.5 194.6 354.3 194 352.2 193 C350.2 192 348.6 190.2 346.8 188.8 C344.9 187.2 343.3 185.4 341.2 184 C339.2 182.6 336.7 181.5 334.4 180.5 C332.1 179.5 329.3 179.1 327.5 177.8 C325.7 176.4 324.4 174.5 323.4 172.2 C322.4 170 321.8 166.5 321.3 164 C320.8 161.5 320.7 158.4 320.6 157 C320.5 155.6 319.5 156.3 320.6 155.8Z"/>
<path class="c" fill="#ffc000" d="M90 320 C92 314.1 98.5 320.2 102 320.9 C105.5 321.6 107.9 323.2 111 324.3 C114.1 325.4 117.4 326.8 120.6 327.8 C123.8 328.7 127 329.3 130.2 329.8 C133.5 330.3 136.9 329.9 139.9 330.5 C142.9 331.1 145.6 332.2 148.1 333.2 C150.6 334.3 152.7 335.4 155 336.7 C157.3 338 159.6 339.6 161.9 340.8 C164.2 342 166.2 342.9 168.8 343.6 C171.3 344.3 174.2 344.6 177 345 C179.8 345.4 182.5 346 185.2 346.3 C188 346.6 190.7 346.9 193.5 347 C196.3 347.1 199.3 346.9 202 347 C204.7 347.1 206.9 347.4 209.6 347.8 C212.2 348.1 214.9 348.4 217.9 349 C220.9 349.6 224.8 350.6 227.5 351.2 C230.2 351.8 233.2 351.8 234.4 352.6 C235.7 353.4 235.7 354.5 235 356 C234.3 357.5 231.6 359.9 230.2 361.5 C228.9 363.1 226.8 364.2 226.8 365.6 C226.8 367 229.1 367.9 230.2 369.8 C231.4 371.6 232.1 374.6 233.7 376.6 C235.3 378.6 238.6 379.9 239.9 382 C241.2 384.1 241 386.5 241.2 389 C241.5 391.5 241.5 394.5 241.2 397.2 C241 400 240.2 402.9 239.9 405.5 C239.6 408.1 240.3 411.6 239.2 413 C238 414.4 235.4 413.8 233 413.8 C230.6 413.8 227.5 413 224.8 413 C222 413 219.2 413.8 216.5 413.8 C213.8 413.8 211.2 413.1 208.2 413 C205.3 412.9 202.1 412.9 199 413 C195.9 413.1 192.4 413.5 189.4 413.8 C186.4 414 183.8 414.7 181 414.5 C178.2 414.3 175.4 413.3 172.9 412.4 C170.4 411.5 168.5 409.5 166 409 C163.5 408.5 160.5 409 157.8 409.6 C155 410.2 152.2 411.7 149.5 412.4 C146.8 413.1 143.5 414 141.2 413.8 C139 413.5 137.8 412.8 136 411 C134.2 409.2 131.8 405.5 130.2 402.8 C128.7 400 128.2 397 126.8 394.5 C125.4 392 123.7 389.9 122 387.6 C120.3 385.3 118.3 383 116.5 380.8 C114.7 378.5 112 376.4 111 373.9 C110 371.4 110.3 368.4 110.3 365.6 C110.3 362.9 111.6 359.5 111 357.4 C110.4 355.3 108.4 353.6 106.9 353.2 C105.4 352.9 104.8 354.8 102 355.3 C99.2 355.8 92 361.9 90 356 C88 350.1 88 325.9 90 320Z"/>
<path class="c" fill="#ffc000" d="M514.8 40 C481.9 42.3 513.9 50.5 514.8 54 C515.6 57.5 518.3 58.7 520 61 C521.7 63.3 524 65.5 525 68 C526 70.5 526.1 73.5 525.8 76 C525.4 78.5 524.4 80.9 523 83 C521.6 85.1 520.2 87.1 517.5 88.5 C514.8 89.9 509.8 90.9 506.5 91.2 C503.2 91.6 500.4 90.7 498 90.6 C495.6 90.5 492 90.2 492 90.5 C492 90.8 496.2 91.5 498 92.6 C499.8 93.6 502.5 95 503 96.8 C503.5 98.6 501.9 101.8 501 103.6 C500.1 105.4 498 105.9 497.5 107.8 C497 109.6 497.4 112.6 498.2 114.6 C499.1 116.6 501.5 118.2 502.4 120 C503.3 121.8 502.6 123.4 503.4 125.5 C504.1 127.6 505 130.1 506.9 132.4 C508.8 134.7 512.2 137.1 515 139.2 C517.8 141.4 521.3 143.1 523.4 145.4 C525.5 147.7 525.9 150.1 527.5 153 C529.1 155.9 531.2 159.6 533 162.6 C534.8 165.6 536 169.4 538.5 171 C541 172.6 544.8 171.3 548 172.2 C551.2 173.2 554.8 175 557.8 176.4 C560.8 177.8 563.2 179.1 566 180.5 C568.8 181.9 571.5 183 574.2 184.6 C577 186.2 579.9 188 582.5 190 C585.1 192 587.4 194.4 590 196.4 C592.6 198.4 595.3 200.3 598.2 201.9 C601.2 203.5 604.7 204.7 607.9 206 C611.1 207.3 614.3 208.5 617.5 210 C620.7 211.5 623.6 214.1 627 215 C630.4 215.9 634.5 215.3 638 215.6 C641.5 215.9 644.8 216.2 647.8 217 C650.8 217.8 653.2 219.5 656 220.4 C658.8 221.3 661.5 222.3 664.2 222.5 C667 222.7 670 222.2 672.5 221.8 C675 221.5 677.1 221.2 679.4 220.4 C681.7 219.6 684.2 217.8 686.2 217 C688.3 216.2 689.9 215.7 691.8 215.6 C693.6 215.5 693.9 216.1 697.2 216.3 C700.6 216.5 709.5 246.4 712 217 C714.5 187.6 744.9 69.5 712 40 C679.1 10.5 547.6 37.7 514.8 40Z"/>
<path class="c" fill="#ffc000" d="M156.4 230.8 L159.1 238.3 L150.9 239.7Z"/>
<path class="c" fill="#fff21c" d="M90 40 C96.3 34.7 121.7 37.6 128 40 C134.3 42.4 128.4 50.6 128 54.4 C127.6 58.1 125.9 59.5 125.6 62.5 C125.3 65.5 126.2 69.7 126.2 72.5 C126.2 75.3 126.8 78 125.6 79.4 C124.4 80.8 120.9 80.9 118.8 81 C116.6 81.1 114.4 80.7 112.5 80 C110.6 79.3 109.2 77.9 107.5 76.9 C105.8 75.9 105.2 74.6 102.2 73.8 C99.3 72.9 92 77.6 90 72 C88 66.4 83.7 45.3 90 40Z"/>
<path class="c" fill="#fff21c" d="M203.8 369.4 L206 366.3 L208 369.4 L206 372.5Z"/>
<path class="c" fill="#fff21c" d="M166 147 L166.6 152 L165.6 155 L165 151Z"/>
<path class="c" fill="#ff8c00" d="M186.2 40 C152.5 42.4 186.9 51.1 186.2 54.4 C185.6 57.7 184.6 58.6 182.5 60 C180.4 61.4 176.7 61.5 173.8 62.5 C170.8 63.5 167.5 65 165 66.2 C162.5 67.5 160.8 68.9 158.8 70 C156.7 71.1 154.5 72.2 152.5 73.1 C150.5 74 148.5 74.2 146.9 75.6 C145.3 77 144.2 78.8 143.1 81.2 C142 83.7 140.6 87.5 140.6 90 C140.6 92.5 142 94.2 143.1 96.2 C144.2 98.3 146 100.4 146.9 102.5 C147.8 104.6 148 106.5 148.8 108.8 C149.5 111 150.5 114 151.2 116.2 C152 118.5 152.4 120 153 122 C153.6 124 154.2 125.8 155 128.2 C155.8 130.7 156.6 134.4 157.8 136.5 C158.9 138.6 160.5 139.2 162 140.6 C163.5 142 165.6 145 166.7 144.8 C167.8 144.5 167.5 141.1 168.8 139.2 C170 137.4 172.2 134.9 174.2 133.8 C176.3 132.6 178.9 133.1 181 132.4 C183.1 131.7 185.4 131.2 186.6 129.6 C187.8 128 187.4 125.4 188 123 C188.6 120.6 188.7 117.5 190 115 C191.3 112.5 194.2 110.2 196 108 C197.8 105.8 199.7 104.2 201 102 C202.3 99.8 202.5 97 204 95 C205.5 93 207.8 91.5 210 90 C212.2 88.5 214.5 87.1 217 86 C219.5 84.9 222.8 84.2 225 83.5 C227.2 82.8 228 82.2 230 82 C232 81.8 234.7 82.2 237 82 C239.3 81.8 241.8 81.3 244 81 C246.2 80.7 247.5 80.5 250 80 C252.5 79.5 255.8 78.8 258.8 78.1 C261.7 77.3 264.8 76.4 267.5 75.5 C270.2 74.6 272.1 73.6 275 72.5 C277.9 71.4 282.5 70 285 69 C287.5 68 287.8 67.2 290 66.5 C292.2 65.8 295 64.9 298 65 C301 65.1 305.2 66.8 308 67 C310.8 67.2 312.7 66.5 315 66 C317.3 65.5 318.9 64.7 321.6 63.8 C324.3 62.8 328 61 331 60.3 C334 59.6 336.5 59.6 339.5 59.6 C342.5 59.6 345.8 60.3 349 60.3 C352.2 60.3 357 58.8 358.8 59.6 C360.6 60.4 359.3 63.4 360 65 C360.7 66.6 361.3 68 363 69 C364.7 70 368 71.2 370 71 C372 70.8 373.2 69.2 375 68 C376.8 66.8 379.2 65.2 381 63.8 C382.8 62.4 384.7 61 386 59.6 C387.3 58.2 388.5 58.8 389 55.5 C389.5 52.2 422.8 42.6 389 40 C355.2 37.4 220 37.6 186.2 40Z"/>
<path class="c" fill="#ff8c00" d="M405 40 C396.2 42.7 403.8 52.7 405 56 C406.2 59.3 409.6 59.3 412 60 C414.4 60.7 417.8 59.8 419.6 60.3 C421.4 60.8 421.1 63.1 423 63 C424.9 62.9 427.8 60.5 431 59.6 C434.2 58.7 438.8 58 442 57.5 C445.2 57 447.9 57.4 450.5 56.9 C453.1 56.4 456.1 57.2 457.4 54.4 C458.6 51.6 466.7 42.4 458 40 C449.3 37.6 413.8 37.3 405 40Z"/>
<path class="c" fill="#ff8c00" d="M549 81.6 C549.5 79.3 550.4 78.9 552 77.5 C553.6 76.1 556.3 74.9 558.8 73.4 C561.3 71.9 564.5 69.8 567 68.6 C569.5 67.4 571.8 66.1 574 66 C576.2 65.9 579 66.5 580 68 C581 69.5 580.3 72 580 74.8 C579.7 77.5 579 81.4 578 84.4 C577 87.4 575.8 90.3 574 92.6 C572.2 94.9 569.5 96.5 567 98 C564.5 99.5 561.5 101 558.8 101.6 C556 102.2 552.1 103.3 550.5 101.6 C548.9 99.9 549.2 94.6 549 91.2 C548.8 87.9 548.5 83.9 549 81.6Z"/>
<path class="c" fill="#ff8c00" d="M509.2 127 C509.4 125.7 510.2 122.9 512 121.5 C513.8 120.1 517 119.4 520.2 118.8 C523.5 118.1 527.8 117.9 531.2 117.4 C534.7 116.9 538.5 116.9 541 116 C543.5 115.1 545.1 114.1 546.4 112 C547.7 109.9 546.9 104.8 549 103.6 C551.1 102.4 555.6 104.9 558.8 105 C562 105.1 565.9 105.1 568.4 104.3 C570.9 103.5 572.2 101.3 574 100.2 C575.8 99.1 576.9 97.9 579.4 97.4 C581.9 96.9 586.3 97.3 589 97.4 C591.7 97.5 593.3 97.3 595.5 98 C597.7 98.7 600.6 100 602.4 101.6 C604.2 103.2 606.1 105.6 606.5 107.8 C606.9 109.9 605.9 112.3 605 114.6 C604.1 116.9 602.3 119.9 601 121.5 C599.7 123.1 597.8 122.7 597 124 C596.2 125.3 594.9 128.3 596 129.6 C597.1 130.9 601.3 131.2 603.8 131.7 C606.2 132.2 608.3 131.6 610.6 132.4 C612.9 133.2 615.7 136.4 617.5 136.5 C619.3 136.6 620.2 134.4 621.6 133 C623 131.6 624.4 129.7 625.8 128.2 C627.1 126.8 628.6 126.1 630 124.2 C631.4 122.4 632.8 119.4 634 117.4 C635.2 115.4 635.8 112.2 637 112 C638.2 111.8 639.2 114.4 641 116 C642.8 117.6 645.5 119.4 647.8 121.5 C650 123.6 652.1 126.4 654.6 128.4 C657.1 130.4 661.4 131.9 663 133.8 C664.6 135.6 664.5 137.1 664.2 139.2 C664 141.4 661.5 144.3 661.5 146.8 C661.5 149.3 663.1 152 664.2 154.4 C665.4 156.8 666.3 159 668.4 161.2 C670.5 163.5 673.6 165.5 676.6 168 C679.6 170.5 683.7 173.9 686.2 176.4 C688.8 178.9 690.4 180.7 691.8 183.2 C693.1 185.8 693.6 189.5 694.5 191.5 C695.4 193.5 694.1 194.2 697 195 C699.9 195.8 709.5 194.2 712 196 C714.5 197.8 714.5 204.4 712 206 C709.5 207.6 701.5 205.5 697.2 205.3 C693 205.1 690.4 204.8 686.2 204.6 C682.1 204.4 677.1 204.1 672.5 204 C667.9 203.9 662.9 203.8 658.8 204 C654.6 204.2 651.2 204.8 647.8 205.3 C644.3 205.8 641.2 206.7 638 207 C634.8 207.3 631.5 208 628.5 207.4 C625.5 206.8 623.2 204.7 620.2 203.2 C617.3 201.8 613.6 200.4 610.6 199 C607.6 197.6 604.3 195.7 602.4 195 C600.5 194.3 600.9 195.8 599 195 C597.1 194.2 593.5 191.7 590.8 190 C588 188.3 585.2 186.4 582.5 184.6 C579.8 182.8 577 180.6 574.2 179 C571.5 177.4 568.8 176.2 566 175 C563.2 173.8 560.5 172.8 557.8 171.6 C555 170.3 552.5 168.3 549.5 167.5 C546.5 166.7 542.3 168 540 166.8 C537.7 165.5 537.1 162.8 535.8 160 C534.4 157.2 533.2 153.2 531.6 150.2 C530 147.2 528.3 144.5 526 142 C523.7 139.5 520.4 137.1 517.9 135 C515.4 132.9 512.4 130.9 511 129.6 C509.6 128.3 509.1 128.3 509.2 127Z"/>
<path class="c" fill="#ff8c00" d="M142 354.6 C142.2 353.6 144.6 352.8 146.8 352.5 C148.9 352.2 152.7 352.3 155 353 C157.3 353.7 158.7 355.3 160.5 356.7 C162.3 358.1 164.8 359.9 166 361.5 C167.2 363.1 168.1 365.6 167.4 366.3 C166.7 367 164.3 366.3 162 365.6 C159.7 364.9 156.4 363.3 153.6 362.2 C150.8 361.1 147.3 360 145.4 358.8 C143.5 357.5 141.8 355.6 142 354.6Z"/>
<path class="c" fill="#ff8c00" d="M175.6 381.9 L182.5 384.2 L187.3 387.4 L177 388.3Z"/>
<ellipse class="c" fill="#ff8c00" cx="643.6" cy="56" rx="7" ry="2.2"/>
<path class="c" fill="#ff3200" d="M193.1 40 C170.1 42.4 193.1 50.6 193.1 54.4 C193.1 58.1 194 60.5 193.1 62.5 C192.2 64.5 189.5 65 187.5 66.2 C185.5 67.5 182.7 68.8 181.2 70 C179.8 71.2 179.2 72.1 178.8 73.8 C178.3 75.4 178.4 77.9 178.8 80 C179.1 82.1 180.4 84.3 180.6 86.2 C180.8 88.2 180.9 90.8 180 91.9 C179.1 93 176.7 92.3 175 93.1 C173.3 93.9 171.7 95.7 170 96.9 C168.3 98.2 166.7 99.5 165 100.6 C163.3 101.7 161 102.4 160 103.8 C159 105.1 158.7 106.9 158.8 108.8 C158.8 110.6 159.6 113.3 160.6 115 C161.6 116.7 163.4 118.1 165 118.8 C166.6 119.4 168.1 119.4 170 118.8 C171.9 118.1 174.4 116.2 176.2 115 C178.1 113.8 179.6 112.9 181.2 111.2 C182.9 109.6 184.5 107.7 186 105 C187.5 102.3 189.2 97.5 190 95 C190.8 92.5 188.8 91.5 190.5 90 C192.2 88.5 196.8 87.2 200 86 C203.2 84.8 206.8 83.8 210 83 C213.2 82.2 216.3 82 219 81.5 C221.7 81 223.7 80.6 226 80 C228.3 79.4 230.2 78.5 233 78 C235.8 77.5 239.7 77.2 242.5 76.9 C245.3 76.6 247.3 76.4 250 76 C252.7 75.6 255.8 75.2 258.8 74.5 C261.7 73.8 264.8 72.4 267.5 71.5 C270.2 70.6 272.1 70 275 69 C277.9 68 281.7 66.7 285 65.5 C288.3 64.3 292.8 62.9 295 62 C297.2 61.1 295.8 60.6 298 60.3 C300.2 60 304.1 60.5 308 60 C311.9 59.5 317.9 58.5 321.6 57.6 C325.3 56.7 328.4 57.7 330 54.8 C331.6 51.9 353.8 42.5 331 40 C308.2 37.5 216.1 37.6 193.1 40Z"/>
<path class="c" fill="#ff3200" d="M539.2 140.6 L544.7 146 L540 152.3Z"/>
<ellipse class="c" fill="#ff3200" cx="157" cy="90" rx="2.5" ry="9"/>
<ellipse class="c" fill="#ff3200" cx="630" cy="181.5" rx="5" ry="2.3"/>
<path class="c" fill="#c00000" d="M202.5 40 C185.6 42.4 201.7 51.5 202.5 54.4 C203.3 57.3 205.8 56.1 207.5 57.5 C209.2 58.9 211.5 60.8 212.5 62.5 C213.5 64.2 212.8 66.2 213.8 67.5 C214.7 68.8 216.1 68.9 218 70 C219.9 71.1 222.4 73.2 225 74 C227.6 74.8 230.8 75.5 233.8 75 C236.7 74.5 239.8 71.9 242.5 71.2 C245.2 70.6 247.3 71.4 250 71.2 C252.7 71.1 255.8 71.2 258.8 70.6 C261.7 70 264.8 68.4 267.5 67.5 C270.2 66.6 272.7 66 275 65 C277.3 64 278.8 62.4 281.2 61.2 C283.8 60.1 287.2 58.8 290 58 C292.8 57.2 295.7 57.1 298 56.5 C300.3 55.9 303 57.1 304 54.4 C305 51.6 320.9 42.4 304 40 C287.1 37.6 219.4 37.6 202.5 40Z"/>
<path class="g" d="M176.3 547V54"/>
<path class="g" d="M254.8 547V54"/>
<path class="g" d="M333.4 547V54"/>
<path class="g" d="M411.9 547V54"/>
<path class="g" d="M490.4 547V54"/>
<path class="g" d="M569 547V54"/>
<path class="g" d="M647.5 547V54"/>
<path class="g" d="M102 67.5H696"/>
<path class="g" d="M102 113.3H696"/>
<path class="g" d="M102 159.1H696"/>
<path class="g" d="M102 204.9H696"/>
<path class="g" d="M102 250.7H696"/>
<path class="g" d="M102 296.5H696"/>
<path class="g" d="M102 342.3H696"/>
<path class="g" d="M102 388.1H696"/>
<path class="g" d="M102 433.9H696"/>
<path class="g" d="M102 479.7H696"/>
<path class="g" d="M102 525.5H696"/>
<path class="k" d="M215 53.6 L211 59 L204 64 L195 69 L194 74 L187 80 L181 85 L182 93 L186 97"/>
<path class="k" d="M175 103.6 L180 100 L185 96.4 L189 94.4 L188 98 L184 102.4 L179 105.6 L176 105.6Z"/>
<path class="k" d="M189 93 L197 91.5 L207 91 L212 93.5 L205 93.5 L197 94.5 L189 96.5"/>
<path class="k" d="M189 94.5 L198 93 L208 92.4"/>
<path class="k" d="M208 93 L207 98 L208 104 L210 109 L215 114 L217 119 L226 117 L236 114 L239 113.6 L240 115 L249 114.4 L256 112 L259 105 L264 99 L268 94.4 L270 92.4 L273 96 L274 103 L279 108 L283 110 L290 120 L297 121 L296 114 L298 109 L303 105 L306 93 L310 90 L314 96 L319 100 L324 97 L330 95"/>
<path class="k" d="M215 114 L210 119 L214 126 L216 132 L222 136 L230 134 L240 132 L250 130 L252 124 L250 119 L253 114 L256 112"/>
<path class="k" d="M240 115 L243 119 L249 119"/>
<path class="k" d="M222 136 L219 142 L215 148 L210 153 L203 154 L201 158 L205 164 L207 170 L210 176 L210 182 L218 194 L223 195 L228 196 L234 198 L240 197 L246 199 L244 202 L239 205 L235 210 L236 214"/>
<path class="k" d="M282 129 L286 136 L282 141 L275 144 L276 151 L282 156 L288 159 L292 166 L296 170 L301 169 L302 174 L310 177 L314 182 L322 186 L330 185"/>
<path class="k" d="M330 152 L322 154 L314 154 L308 159 L306 164 L308 166 L304 172"/>
<path class="k" d="M246 199 L252 198 L256 193 L261 185 L266 181 L274 180 L282 179 L288 178 L299 175 L304.5 175 L310 168"/>
<path class="k" d="M101 224 L108 227 L115 229 L122 231 L128 233 L135 234 L138 232 L143 229 L145 231 L140 233 L145 236 L150 237.5 L160 241 L167.5 245 L175 246 L184 245 L190 244 L198 240 L202 235 L207 230 L213 226 L220 220 L228 216 L236 214 L244 213 L252 211 L258 207 L263 201 L268 195 L272 191 L278 188 L284 185 L290 184 L298 187 L308 190 L316 193 L320 193 L326 195 L332 199 L337 204 L341 210 L343.6 218 L345 225 L348 232 L351 239 L353 246 L352 251 L355 253 L361 255 L365 259 L371 263 L376 268 L380 273 L377 278 L380 279 L388 278 L393 280 L399 284 L404 290 L409 295 L414 300 L420 303 L426 309 L430 315 L437 320 L445 323 L451 327 L454 332 L462 330 L470 330 L480 331 L484 336 L488 342 L491 349 L496 351 L502 350 L508 354 L514 358 L520 361 L524 366 L527 372 L530 377 L536 381 L540 385 L544 388 L549 386 L554 387 L558 384 L560 379 L559 388 L561 396 L563 403 L565.5 408.5 L568.5 412.4 L571.3 420.6 L574 428.9 L577.5 435.8 L578 441.3 L575.4 445.4 L570 447.5 L563.7 449.5 L563 452.3 L566.5 454.3 L565 459 L563 463.3 L559.6 466 L555.4 467.4 L554 468 L554.6 473.5 L556 479 L558.8 481.8 L564.2 483 L569.8 482.4 L573.2 479 L575.2 474.9 L577 470 L579.5 466 L585 464.7 L590.5 461.9 L592 456.4 L591.2 450.9 L590.5 445.4 L594.6 440.6 L600 437.8 L607 436.5 L612.5 437 L616 432.3 L613.2 427.5 L614 420.6 L612.5 415 L607 411 L602 410 L600 408 L596 405 L590 402 L589 396 L594 392 L593 388 L587 390 L585.6 386 L588 382 L595 381 L599 375 L602 369 L607 366 L612 365 L617 366 L619 369 L626 371 L634 372 L642 375 L646 380 L648 386 L651 392 L657 395 L662.4 397 L665 388 L667 382 L665 376 L660 371 L654 366 L649 360 L642 357 L634 354 L626 351 L620 347 L614 343 L606 338 L598 335 L588 331 L578 327 L569 323 L564 318 L566 313 L572 310 L576.4 306 L575 301 L570 298.4 L562 299 L552 299.6 L544 300 L536 299 L528 296 L518 292 L513 287 L508 282 L502 276 L498 270 L494 262 L488 250 L480 235 L477 231 L472 225 L466 221 L458 216 L450 210 L442 205 L434 199 L431.6 199 L427.5 195 L425.4 188.8 L424 182 L422.7 175 L422 167.5 L426 165.4 L431 162.6 L433 159.9 L428.9 158.5 L424.8 155 L420.6 149.6 L418.6 145.4 L422.7 137.9 L424.8 133.8 L426 131.7 L434.4 133.8 L440 133 L446.8 130.3 L453.6 126.9 L459 124 L466 125.5 L471.5 124 L473 121.4 L475 120 L474 124 L480 123 L483 127 L487 130 L482 133 L475 134 L472 137 L473 143 L477 149 L479 153 L483 158 L487 168 L490 164 L494 160 L497 155 L500 152 L502 149 L506 150 L510 148 L515 150 L520 153 L524 159 L526 165 L524 167 L528 170 L531 174 L534 179 L536 184 L544 192 L549 192.4 L552 196 L555 202 L560 208 L564 214 L567 224 L570 228 L576 227 L585 226 L590 229 L598 231 L604 233 L610 238 L616 243 L622 247 L628 250 L634 255 L640 259 L646 263 L654 268 L662 273 L668 277 L673 276 L675 279 L678 283 L684 285 L689 290 L693 296 L698 301"/>
<path class="k" stroke-width="1.5" d="M266 338 L268 340 L265 344 L268 349 L276 350 L284 347 L290 342 L296 336 L300 331 L305 331 L309 334 L312 339 L315 344 L319 349 L322 355 L324 362 L325 364 L322 370 L319 376 L321 382 L322 390 L321 400 L320 410 L319 420 L317 427 L312 428 L308 425 L302 424 L297 423 L296 430 L294 435 L288 439 L283 437 L279 438 L277 433 L273 428 L271 422 L269 417 L271 411 L273 406 L274 400 L276 395 L273 392 L271 386 L273 380 L272 374 L269 368 L267 362 L262 360 L260 355 L262 348 L263 342Z"/>
<path class="k" d="M308 251 L311 250 L313 256 L312 262 L311 268 L314 274 L315.6 280 L315 287 L314 293 L310 298 L308 306 L305 313 L303 319 L304 323 L300 324 L296 320 L291 317 L286 314 L288 310 L283 307 L284 302 L279 299 L280 294 L277 289 L279 285 L276 279 L281 274 L283 270 L289 267 L296 264 L304 262 L307 257Z"/>
<path class="k" d="M430.3 481.8 L433 476.8 L437.4 474.2 L439.6 471 L441.8 472 L445 476.8 L449.4 475.3 L453.7 471 L457 472 L461.3 469.4 L465.6 471 L468.9 475.3 L475.4 476.8 L485 478.5 L497 478.5 L505.7 478 L510.6 475.6 L517.5 472 L525.8 470.8 L532.6 472.8 L539.5 470.8 L547.8 468 L553.2 468 L550.5 473.5 L545 479.7 L540.9 485.9 L537.5 492 L536.8 495.5 L534 500.3 L533.8 505 L536 509.2 L538 512.7 L537.5 516 L540.2 519.6 L542.2 524.4 L538.8 526.5 L536 531.2 L534 534.7 L535.4 538.8 L534.7 540.9 L531.2 539.5 L528.5 537.5 L524.4 538.8 L519.6 538 L514 536 L509.2 534 L506.5 529.2 L502.4 524.4 L498.2 521.6 L492.7 520.8 L484 519.7 L475.4 516.5 L466.7 511 L460.2 505.6 L453.7 502 L445 499.1 L436.8 497.6 L432 493.7 L429.4 488.3Z"/>
<path class="k" stroke-width="2.5" d="M308 328 L312 333 L316 340 L320 348"/>
<path class="k" d="M263 427 L266 424 L268 426 L266 429Z"/>
<path class="k" d="M268 429 L271 428 L273 432 L271 435 L269 433Z"/>
<path class="k" d="M337.4 260 L342 259 L348 257 L351 258 L350 262 L346 262.4 L341 262.4 L338 262Z"/>
<path class="k" d="M320 65 L328 67 L332 70 L338 68 L346 69 L352 70 L356 74 L362 76 L370 75 L376 72 L380 69 L388 68 L400 67 L408 65 L418 64 L420 67 L426 80 L432 82 L440 84 L448 85 L458 86 L468 87 L480 89 L490 91 L500 92.5 L515 90 L525 84 L547.5 84 L567.5 80 L570 74 L580 72.5 L587.5 55"/>
<path class="k" d="M580 72.5 L585 82.5 L600 97.5 L610 102.5 L620 112.5 L632.5 116 L650 122.5 L665 124 L675 117.5 L690 114 L698 112.5"/>
<path class="k" d="M617 80 L622 77 L632 74 L642 70 L650 66.5 L654 67.5 L653 70.5 L646 72.5 L636 75.5 L627 79 L618 81Z"/>
<path class="k" d="M352 70 L350 78 L347 85 L338 86 L336 90 L339 95 L346 93 L352 91 L356 95 L357 103 L354 110 L352 116 L355 122 L362 121 L365 119 L368 126 L376 127 L380 122 L384 117 L390 114 L397 113 L403 109 L408 106 L408 101 L404 97 L405 91 L409 88 L416 84 L418 83 L428 84 L440 86 L444 87 L436 92 L429 96 L425 101 L429 105 L430 111 L434 116 L440 120 L448 122 L452 121 L456 126"/>
<path class="k" d="M468 87 L470 96 L467 102 L472 108 L470 116 L474 122 L472 130 L476 136 L480 138"/>
<path class="k" d="M440 130 L448 129 L456 124 L466 125 L473 128 L475 134"/>
<path class="k" d="M320 151 L330 153 L338 157 L346 159 L356 158 L366 161 L376 159 L386 161 L394 162 L404 163 L414 164 L422 167"/>
<path class="k" d="M362 138 L366 144 L372 149 L378 154 L384 159"/>
<path class="k" d="M320 188 L328 186 L334 187 L342 190 L350 194 L358 195 L366 199 L374 200 L382 197 L389 195 L391 198 L397 199 L400 204 L404 211 L411 215 L419 216 L424 217 L428 212 L431 206 L436 208 L440 210 L442 206"/>
<path class="k" d="M420 220 L417 227 L413 232 L418 237 L417 242 L411 246 L409 254 L403 259 L402 265 L396 271 L394 276 L388 278"/>
<path class="k" d="M420 220 L428 223 L435 229 L440 232 L442 240 L445 247 L448 253 L458 257 L461 261 L456 266 L448 270 L442 273 L436 278 L430 277 L426 272 L422 268 L418 265 L414 266 L409 265"/>
<path class="k" d="M461 261 L468 259 L478 255 L481 254"/>
<path class="k" d="M461 261 L460 270 L458 278 L462 284 L464 289 L460 291 L454 292 L452 295 L460 298 L466 303 L472 307 L480 306 L486 308 L490 310 L491 318 L488 323 L486 330 L489 338 L492 346 L491 349"/>
<path class="k" d="M490 310 L496 305 L502 301 L508 303 L511 307 L516 302 L520 300"/>
<path class="k" d="M491 318 L500 320 L508 323 L516 324 L524 322 L531 320 L530 314 L534 309 L536 299"/>
<path class="k" d="M531 320 L534 327 L538 332 L540 338 L548 341 L552 346 L544 349 L545 354 L549 358"/>
<path class="k" d="M567 339 L571 344 L577 347 L581 352 L587 355 L594 354 L597 359 L598 366 L602 369"/>
<path class="k" d="M567 339 L561 337 L552 338 L546 342 L544 349 L548 356 L549 360 L555 367 L560 374 L561 378 L557 383 L559 388 L566 388 L571 389 L575 391"/>
<path class="k" d="M611 365 L615 365.6 L620 366 L617 367"/>
<path class="k" d="M502 153 L505 159 L507 165 L509 171 L511 177 L510 181 L508 178 L506 172 L504 165 L502.4 159Z"/>
<path class="k" d="M509 151 L514 153 L519 157 L520 160 L516 159 L512 157 L509 154Z"/>
<path class="k" d="M520 168 L524 174 L528 179 L532 184 L534 187 L531 185 L527 181 L523 176 L520 171Z"/>
<path class="k" d="M524 197 L529 201 L534 206 L536 209 L533 208 L528 203 L524 199Z"/>
<path class="k" d="M534 198 L540 203 L546 207 L548 210 L545 210 L539 205 L534 200Z"/>
<path class="k" d="M540 211 L543 213 L546 215"/>
<path class="k" d="M554 219 L558 221"/>
<path class="k" d="M585 233 L592 232 L600 234 L604 236.4 L600 239 L592 238 L587 236.4Z"/>
<path class="k" d="M590 242.4 L596 241.6 L606 243 L615 244 L614 245.6 L606 245.2 L597 245 L591 244.4Z"/>
<path class="k" d="M595 252 L602 251 L610 250 L616 251 L614 253.6 L606 254 L598 254.4Z"/>
<path class="k" d="M616 249 L624 252 L632 255 L638 258 L636 259 L628 257 L620 253.6Z"/>
<path class="k" d="M622 260 L629 261 L637 263 L634 263.6 L626 262.4Z"/>
<path class="k" d="M572 247 L575 246 L578 249 L574 249Z"/>
<path class="k" d="M577 232 L580 231.5 L582 234 L578 234Z"/>
<path class="k" d="M690 283 L694 284 L697 290 L694 288 L691 285Z"/>
<path class="k" stroke-width="2.5" d="M326 248.5 L327 249.5"/>
<path class="k" stroke-width="2" d="M336 268.5 L336.5 269"/>
<path class="k" stroke-width="2" d="M345 281 L345.5 281.5"/>
<path class="k" stroke-width="2.5" d="M368 279 L368.5 280"/>
<path class="k" stroke-width="2" d="M353 252 L353.5 252.5"/>
<path class="k" d="M445 346 L449 345 L453 343"/>
<path class="k" d="M484 353 L487 352 L490 354 L487 356 L484 355Z"/>
<path class="k" stroke-width="2" d="M498 362 L503 360 L508 358"/>
<path class="k" stroke-width="2" d="M504 454 L504.5 454.5"/>
<path class="k" stroke-width="2" d="M512.5 452.5 L513 453"/>
<path class="k" stroke-width="2" d="M523.5 452 L524.5 453"/>
<path class="k" stroke-width="2" d="M527.5 456.5 L528 458.5"/>
<path class="k" stroke-width="2" d="M532 449.5 L533.5 448.5"/>
<path class="k" stroke-width="2" d="M538.5 444.5 L539.5 443.5"/>
<path class="k" stroke-width="2.5" d="M422 480 L426 483"/>
<path class="k" stroke-width="2" d="M412.5 479.6 L413.5 480"/>
<path class="k" d="M103 386 L110 390 L111 395 L107.5 397.5 L104 394Z"/>
<path class="k" d="M101 529.7 L111 530.2 L120.6 529 L128 530.6 L134.7 533.4 L140.3 539 L146.9 541.5 L154.4 540 L161.9 536.2 L169.4 533.4 L176.9 531.6 L182.5 529.7 L187.2 525 L190 521.6 L197.5 524 L201.2 526.9 L210.6 526.9 L218 526 L223.8 522.2 L231.2 523 L236.9 525 L242.5 525 L244.7 526.9 L248.4 530.6 L253 529.7 L258.8 527.8 L264.4 526.9 L270 528.8 L277.5 526.9 L285 526 L290.6 524 L296.2 518.4 L301.9 515.6 L309.4 512.8 L315 511 L322.5 509 L326.2 511.9 L330 514.7 L335.6 513.8 L342.2 516.5 L340.3 520.3 L342.2 526 L346.9 531.6 L350.6 534.4 L356.2 530.6 L361.9 527.8 L367.5 524 L373 522.2 L375 525 L371.2 532.5 L367.5 540 L366.5 547"/>
<path class="k" d="M262.5 546 L268 540 L273.8 534.4 L279.4 529.7 L282.2 526"/>
<path class="k" d="M210.6 529.7 L216.2 530.2 L222 527.8"/>
<path class="b" stroke-width="2" d="M281.5 109.5 L279.5 114 L276 117.5 L274 119"/>
<path class="b" stroke-width="2" d="M276 119 L279 126 L281 128.5"/>
<path class="b" stroke-width="2" d="M274 117 L278 117.5"/>
<path class="b" stroke-width="1.5" d="M282 119 L284 117.5 L287 117 L287.5 119 L285 120.5 L282.5 120.5Z"/>
<path class="b" stroke-width="2" d="M288.5 114.5 L291 115.5 L294 114 L297 111.5"/>
<path class="b" stroke-width="2" d="M311 103.5 L307 106 L305 108.5 L304 113 L300 116 L297.5 119.5"/>
<path class="b" stroke-width="2" d="M304 113 L307 117 L310 122"/>
<path class="k" stroke-width="2" d="M290.5 116 L294 116 L296 119.5 L294 121 L290.5 121Z"/>
<path class="b" d="M354 131 L357 130 L360 126 L365 120 L367 119 L366 122 L363 128 L362 134 L360 138 L356 137 L354 134Z"/>
<path class="b" stroke-width="1.8" d="M362 134 L365 126 L367 120"/>
<path class="b" stroke-width="2" d="M337 121.5 L334.5 123.5 L336.5 125.5 L337 127.5 L334 129 L331.5 128.5"/>
<path class="b" d="M415 176 L418 174 L421 176 L420 179 L416 179Z"/>
<path class="b" d="M413.5 242 L416 241 L418.5 243 L418 246 L415 247 L413 245Z"/>
<path class="b" d="M407 267 L409.5 266 L411.5 268 L410.5 271 L408 271Z"/>
<path class="b" stroke-width="2" d="M420.5 262.5 L421.5 263.5"/>
<path class="b" stroke-width="2" d="M418 281 L418.5 282"/>
<path class="b" d="M419.5 289.5 L422.5 289.5 L422.5 292 L419.5 292Z"/>
<path class="b" style="fill:#00008c" d="M530 315 L535 315.5 L534 319 L530.5 320Z"/>
<path class="b" stroke-width="2.2" d="M540 300 L545 301.5 L550 300"/>
<path class="b" d="M557 300 L559 299.5 L561 301 L559 303 L557 302Z"/>
<rect x="218.5" y="68.8" width="14" height="12" fill="#fff"/>
<text class="lb" x="225.5" y="78.8">14</text>
<rect x="228.8" y="79" width="14" height="12" fill="#fff"/>
<text class="lb" x="235.8" y="89">10</text>
<rect x="307" y="56.2" width="14" height="12" fill="#fff"/>
<text class="lb" x="314" y="66.2">12</text>
<rect x="280.4" y="96.5" width="8" height="12" fill="#fff"/>
<text class="lb" x="284.4" y="106.5">6</text>
<rect x="280.8" y="70" width="8" height="12" fill="#fff"/>
<text class="lb" x="284.8" y="80">6</text>
<rect x="153" y="172.5" width="8" height="12" fill="#fff"/>
<text class="lb" x="157" y="182.5">6</text>
<rect x="212.2" y="183.2" width="8" height="12" fill="#fff"/>
<text class="lb" x="216.2" y="193.2">4</text>
<rect x="320.3" y="144" width="8" height="12" fill="#fff"/>
<text class="lb" x="324.3" y="154">8</text>
<rect x="290.2" y="170" width="8" height="12" fill="#fff"/>
<text class="lb" x="294.2" y="180">6</text>
<rect x="378.8" y="97.2" width="8" height="12" fill="#fff"/>
<text class="lb" x="382.8" y="107.2">6</text>
<rect x="405" y="48" width="14" height="12" fill="#fff"/>
<text class="lb" x="412" y="58">10</text>
<rect x="418" y="65.5" width="8" height="12" fill="#fff"/>
<text class="lb" x="422" y="75.5">8</text>
<rect x="457.2" y="75.5" width="8" height="12" fill="#fff"/>
<text class="lb" x="461.2" y="85.5">6</text>
<rect x="496.2" y="84.2" width="8" height="12" fill="#fff"/>
<text class="lb" x="500.2" y="94.2">8</text>
<rect x="571.8" y="58.8" width="14" height="12" fill="#fff"/>
<text class="lb" x="578.8" y="68.8">10</text>
<rect x="631" y="104.5" width="14" height="12" fill="#fff"/>
<text class="lb" x="638" y="114.5">10</text>
<rect x="505.9" y="137.8" width="8" height="12" fill="#fff"/>
<text class="lb" x="509.9" y="147.8">4</text>
<rect x="536" y="181" width="8" height="12" fill="#fff"/>
<text class="lb" x="540" y="191">2</text>
<rect x="631" y="201" width="14" height="12" fill="#fff"/>
<text class="lb" x="638" y="211">10</text>
<rect x="467" y="208" width="8" height="12" fill="#fff"/>
<text class="lb" x="471" y="218">6</text>
<rect x="408" y="195.5" width="8" height="12" fill="#fff"/>
<text class="lb" x="412" y="205.5">8</text>
<rect x="388.5" y="212" width="8" height="12" fill="#fff"/>
<text class="lb" x="392.5" y="222">4</text>
<rect x="467" y="252.2" width="8" height="12" fill="#fff"/>
<text class="lb" x="471" y="262.2">4</text>
<rect x="555.4" y="260.5" width="8" height="12" fill="#fff"/>
<text class="lb" x="559.4" y="270.5">2</text>
<rect x="212" y="254" width="8" height="12" fill="#fff"/>
<text class="lb" x="216" y="264">4</text>
<rect x="162.7" y="289.5" width="8" height="12" fill="#fff"/>
<text class="lb" x="166.7" y="299.5">6</text>
<rect x="280.2" y="285" width="8" height="12" fill="#fff"/>
<text class="lb" x="284.2" y="295">6</text>
<rect x="202.2" y="339" width="8" height="12" fill="#fff"/>
<text class="lb" x="206.2" y="349">8</text>
<rect x="418.2" y="308" width="8" height="12" fill="#fff"/>
<text class="lb" x="422.2" y="318">4</text>
<rect x="516" y="291.5" width="8" height="12" fill="#fff"/>
<text class="lb" x="520" y="301.5">4</text>
<rect x="133.2" y="406.5" width="8" height="12" fill="#fff"/>
<text class="lb" x="137.2" y="416.5">8</text>
<rect x="320.2" y="414.5" width="8" height="12" fill="#fff"/>
<text class="lb" x="324.2" y="424.5">4</text>
<rect x="320.2" y="424.5" width="8" height="12" fill="#fff"/>
<text class="lb" x="324.2" y="434.5">6</text>
<rect x="408" y="437.5" width="8" height="12" fill="#fff"/>
<text class="lb" x="412" y="447.5">4</text>
<rect x="575" y="388.5" width="8" height="12" fill="#fff"/>
<text class="lb" x="579" y="398.5">2</text>
<rect x="477" y="474.3" width="8" height="12" fill="#fff"/>
<text class="lb" x="481" y="484.3">4</text>
<rect x="496.6" y="501.6" width="8" height="12" fill="#fff"/>
<text class="lb" x="500.6" y="511.6">2</text>
<rect x="192" y="510.5" width="8" height="12" fill="#fff"/>
<text class="lb" x="196" y="520.5">6</text>
<rect x="310" y="519.8" width="8" height="12" fill="#fff"/>
<text class="lb" x="314" y="529.8">6</text>
<text class="t2" style="font-size:12.6px;stroke:none" transform="translate(310 538.8) scale(1.15 1)" textLength="155.7" lengthAdjust="spacing">(C) www.centrometeo.com</text>
</g>
<rect x="101" y="53" width="597" height="495" fill="none" stroke="#000" stroke-width="2"/>
<path d="M176.3 549v2.5" stroke="#000" stroke-width="1" fill="none"/>
<path d="M254.8 549v2.5" stroke="#000" stroke-width="1" fill="none"/>
<path d="M333.4 549v2.5" stroke="#000" stroke-width="1" fill="none"/>
<path d="M411.9 549v2.5" stroke="#000" stroke-width="1" fill="none"/>
<path d="M490.4 549v2.5" stroke="#000" stroke-width="1" fill="none"/>
<path d="M569 549v2.5" stroke="#000" stroke-width="1" fill="none"/>
<path d="M647.5 549v2.5" stroke="#000" stroke-width="1" fill="none"/>
<path d="M98 67.5h2" stroke="#000" stroke-width="1" fill="none"/>
<path d="M98 113.3h2" stroke="#000" stroke-width="1" fill="none"/>
<path d="M98 159.1h2" stroke="#000" stroke-width="1" fill="none"/>
<path d="M98 204.9h2" stroke="#000" stroke-width="1" fill="none"/>
<path d="M98 250.7h2" stroke="#000" stroke-width="1" fill="none"/>
<path d="M98 296.5h2" stroke="#000" stroke-width="1" fill="none"/>
<path d="M98 342.3h2" stroke="#000" stroke-width="1" fill="none"/>
<path d="M98 388.1h2" stroke="#000" stroke-width="1" fill="none"/>
<path d="M98 433.9h2" stroke="#000" stroke-width="1" fill="none"/>
<path d="M98 479.7h2" stroke="#000" stroke-width="1" fill="none"/>
<path d="M98 525.5h2" stroke="#000" stroke-width="1" fill="none"/>
<text class="ax" x="176.6" y="561.6" text-anchor="middle">6E</text>
<text class="ax" x="255.1" y="561.6" text-anchor="middle">8E</text>
<text class="ax" x="333.7" y="561.6" text-anchor="middle">10E</text>
<text class="ax" x="412.2" y="561.6" text-anchor="middle">12E</text>
<text class="ax" x="490.7" y="561.6" text-anchor="middle">14E</text>
<text class="ax" x="569.2" y="561.6" text-anchor="middle">16E</text>
<text class="ax" x="647.8" y="561.6" text-anchor="middle">18E</text>
<text class="ax" x="94.8" y="71.5" text-anchor="end">47N</text>
<text class="ax" x="94.8" y="117.3" text-anchor="end">46N</text>
<text class="ax" x="94.8" y="163.1" text-anchor="end">45N</text>
<text class="ax" x="94.8" y="208.9" text-anchor="end">44N</text>
<text class="ax" x="94.8" y="254.7" text-anchor="end">43N</text>
<text class="ax" x="94.8" y="300.5" text-anchor="end">42N</text>
<text class="ax" x="94.8" y="346.3" text-anchor="end">41N</text>
<text class="ax" x="94.8" y="392.1" text-anchor="end">40N</text>
<text class="ax" x="94.8" y="437.9" text-anchor="end">39N</text>
<text class="ax" x="94.8" y="483.7" text-anchor="end">38N</text>
<text class="ax" x="94.8" y="529.5" text-anchor="end">37N</text>
<text class="t1" transform="translate(87 24.8) scale(1.2 1)" textLength="240" lengthAdjust="spacing">GFS&#8722;FV3 Model, res = ~13km 127lev</text>
<text class="t1" transform="translate(403 24.8) scale(1.2 1)" textLength="258.7" lengthAdjust="spacing">Initial input data: Sun 18Z 14&#8722;12&#8722;2025</text>
<text class="t2" transform="translate(127.5 45.6) scale(1.2 1)" textLength="258.8" lengthAdjust="spacing">96h Difference 850hPa Temperature (C)</text>
<text class="t2" transform="translate(451 45.6) scale(1.2 1)" textLength="184.2" lengthAdjust="spacing">Valid: Mon 12Z 29&#8722;12&#8722;2025</text>
<path d="M740 86 L749 60 L757 86 Z" fill="#960000"/>
<rect x="740" y="86" width="17" height="25.6" fill="#c00000"/>
<rect x="740" y="111.3" width="17" height="25.6" fill="#ff3200"/>
<rect x="740" y="136.6" width="17" height="25.6" fill="#ff8c00"/>
<rect x="740" y="161.9" width="17" height="25.6" fill="#ffc000"/>
<rect x="740" y="187.2" width="17" height="25.6" fill="#fff21c"/>
<rect x="740" y="212.5" width="17" height="25.6" fill="#00aa0a"/>
<rect x="740" y="237.8" width="17" height="25.6" fill="#32fa32"/>
<rect x="740" y="263.1" width="17" height="25.6" fill="#b4fab4"/>
<rect x="740" y="288.4" width="17" height="25.6" fill="#ffffff"/>
<rect x="740" y="313.7" width="17" height="25.6" fill="#d2d2ff"/>
<rect x="740" y="339" width="17" height="25.6" fill="#8c8cff"/>
<rect x="740" y="364.3" width="17" height="25.6" fill="#5a5aff"/>
<rect x="740" y="389.6" width="17" height="25.6" fill="#0000c8"/>
<rect x="740" y="414.9" width="17" height="25.6" fill="#00008c"/>
<rect x="740" y="440.2" width="17" height="25.6" fill="#000064"/>
<rect x="740" y="465.5" width="17" height="25.6" fill="#ff32ff"/>
<rect x="740" y="490.8" width="17" height="25.6" fill="#c800c8"/>
<path d="M740 516.1 L749 540.5 L757 516.1 Z" fill="#640064"/>
<path d="M740.5 86V516.1" stroke="#000" stroke-width="1" fill="none"/>
<text class="cb" x="761" y="90">16</text>
<path d="M740 111.3H757" stroke="#000" stroke-width="1" fill="none"/>
<text class="cb" x="761" y="115.3">14</text>
<path d="M740 136.6H757" stroke="#000" stroke-width="1" fill="none"/>
<text class="cb" x="761" y="140.6">12</text>
<path d="M740 161.9H757" stroke="#000" stroke-width="1" fill="none"/>
<text class="cb" x="761" y="165.9">10</text>
<path d="M740 187.2H757" stroke="#000" stroke-width="1" fill="none"/>
<text class="cb" x="761" y="191.2">8</text>
<path d="M740 212.5H757" stroke="#000" stroke-width="1" fill="none"/>
<text class="cb" x="761" y="216.5">6</text>
<path d="M740 237.8H757" stroke="#000" stroke-width="1" fill="none"/>
<text class="cb" x="761" y="241.8">4</text>
<path d="M740 263.1H757" stroke="#000" stroke-width="1" fill="none"/>
<text class="cb" x="761" y="267.1">2</text>
<path d="M740 288.4H757" stroke="#000" stroke-width="1" fill="none"/>
<text class="cb" x="761" y="292.4">1</text>
<path d="M740 313.7H757" stroke="#000" stroke-width="1" fill="none"/>
<text class="cb" x="761" y="317.7">−1</text>
<path d="M740 339H757" stroke="#000" stroke-width="1" fill="none"/>
<text class="cb" x="761" y="343">−2</text>
<path d="M740 364.3H757" stroke="#000" stroke-width="1" fill="none"/>
<text class="cb" x="761" y="368.3">−4</text>
<path d="M740 389.6H757" stroke="#000" stroke-width="1" fill="none"/>
<text class="cb" x="761" y="393.6">−6</text>
<path d="M740 414.9H757" stroke="#000" stroke-width="1" fill="none"/>
<text class="cb" x="761" y="418.9">−8</text>
<path d="M740 440.2H757" stroke="#000" stroke-width="1" fill="none"/>
<text class="cb" x="761" y="444.2">−10</text>
<path d="M740 465.5H757" stroke="#000" stroke-width="1" fill="none"/>
<text class="cb" x="761" y="469.5">−12</text>
<path d="M740 490.8H757" stroke="#000" stroke-width="1" fill="none"/>
<text class="cb" x="761" y="494.8">−14</text>
<text class="cb" x="761" y="520.1">−16</text>
<g transform="translate(2,574)">
<rect x="0.5" y="0.5" width="97" height="23" rx="1.5" fill="url(#lg)" stroke="#5f7fb8" stroke-width="1"/>
<rect x="1" y="22" width="97" height="2" fill="#3a5a98" opacity="0.6"/>
<ellipse cx="13.4" cy="12.3" rx="7" ry="6.8" fill="none" stroke="url(#ring)" stroke-width="3"/>
<ellipse cx="13.8" cy="12.4" rx="5" ry="5.4" fill="none" stroke="#7fd8e8" stroke-width="0.9" opacity="0.85"/>
<text x="25" y="16.5" style="font-size:11.5px;fill:#fff;letter-spacing:-0.3px">centro</text>
<text x="57" y="16.5" style="font-size:11.5px;fill:#ff8a00;font-weight:bold;letter-spacing:-0.6px">meteo</text>
</g>
<g transform="translate(700,574)">
<rect x="0.5" y="0.5" width="97" height="23" rx="1.5" fill="url(#lg)" stroke="#5f7fb8" stroke-width="1"/>
<rect x="1" y="22" width="97" height="2" fill="#3a5a98" opacity="0.6"/>
<ellipse cx="13.4" cy="12.3" rx="7" ry="6.8" fill="none" stroke="url(#ring)" stroke-width="3"/>
<ellipse cx="13.8" cy="12.4" rx="5" ry="5.4" fill="none" stroke="#7fd8e8" stroke-width="0.9" opacity="0.85"/>
<text x="25" y="16.5" style="font-size:11.5px;fill:#fff;letter-spacing:-0.3px">centro</text>
<text x="57" y="16.5" style="font-size:11.5px;fill:#ff8a00;font-weight:bold;letter-spacing:-0.6px">meteo</text>
</g>
</svg>
</body></html>
